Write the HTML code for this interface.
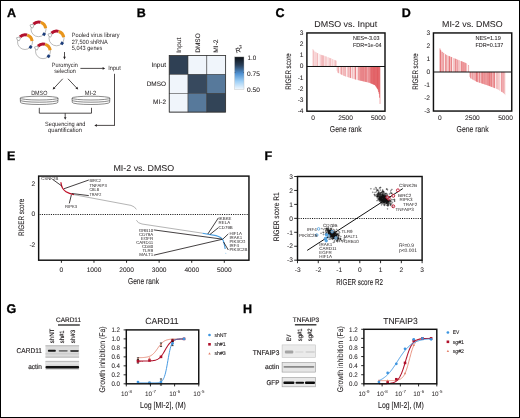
<!DOCTYPE html>
<html><head><meta charset="utf-8"><style>
html,body{margin:0;padding:0;background:#fff;}
body{width:520px;height:418px;overflow:hidden;}
svg{display:block;font-family:"Liberation Sans", sans-serif;text-rendering:geometricPrecision;will-change:transform;}
</style></head><body>
<svg width="520" height="418" viewBox="0 0 520 418">
<rect x="0" y="0" width="520" height="418" fill="#fff"/>
<text x="7.00" y="16.70" font-size="12.5" text-anchor="start" font-weight="bold" fill="#000" stroke="#000" stroke-width="0.3">A</text>
<circle cx="38.5" cy="29.2" r="7.5" fill="none" stroke="#8f8f8f" stroke-width="0.6"/>
<path d="M33.50,24.02 A7.2,7.2 0 0 1 40.48,22.28" fill="none" stroke="#b3112e" stroke-width="3.1"/>
<path d="M40.72,22.35 A7.2,7.2 0 0 1 45.63,28.20" fill="none" stroke="#e8951c" stroke-width="3.1"/>
<g transform="translate(31.76,25.91) rotate(118)"><polygon points="-1.5,-1.8 1.5,-1.8 1.5,0.4 0,2.0 -1.5,0.4" fill="#fff" stroke="#8a8a8a" stroke-width="0.55"/></g>
<rect x="42.62" y="32.77" width="2.9" height="2.9" fill="#1c3d7a" transform="rotate(35 44.07 34.22)"/>
<circle cx="25" cy="42" r="7.5" fill="none" stroke="#8f8f8f" stroke-width="0.6"/>
<path d="M20.00,36.82 A7.2,7.2 0 0 1 26.98,35.08" fill="none" stroke="#b3112e" stroke-width="3.1"/>
<path d="M27.22,35.15 A7.2,7.2 0 0 1 32.13,41.00" fill="none" stroke="#e8951c" stroke-width="3.1"/>
<g transform="translate(18.26,38.71) rotate(118)"><polygon points="-1.5,-1.8 1.5,-1.8 1.5,0.4 0,2.0 -1.5,0.4" fill="#fff" stroke="#8a8a8a" stroke-width="0.55"/></g>
<rect x="29.12" y="45.57" width="2.9" height="2.9" fill="#1c3d7a" transform="rotate(35 30.57 47.02)"/>
<circle cx="56.5" cy="38.3" r="7.5" fill="none" stroke="#8f8f8f" stroke-width="0.6"/>
<path d="M51.50,33.12 A7.2,7.2 0 0 1 58.48,31.38" fill="none" stroke="#b3112e" stroke-width="3.1"/>
<path d="M58.72,31.45 A7.2,7.2 0 0 1 63.63,37.30" fill="none" stroke="#e8951c" stroke-width="3.1"/>
<g transform="translate(49.76,35.01) rotate(118)"><polygon points="-1.5,-1.8 1.5,-1.8 1.5,0.4 0,2.0 -1.5,0.4" fill="#fff" stroke="#8a8a8a" stroke-width="0.55"/></g>
<rect x="60.62" y="41.87" width="2.9" height="2.9" fill="#1c3d7a" transform="rotate(35 62.07 43.32)"/>
<circle cx="43" cy="51.2" r="7.5" fill="none" stroke="#8f8f8f" stroke-width="0.6"/>
<path d="M38.00,46.02 A7.2,7.2 0 0 1 44.98,44.28" fill="none" stroke="#b3112e" stroke-width="3.1"/>
<path d="M45.22,44.35 A7.2,7.2 0 0 1 50.13,50.20" fill="none" stroke="#e8951c" stroke-width="3.1"/>
<g transform="translate(36.26,47.91) rotate(118)"><polygon points="-1.5,-1.8 1.5,-1.8 1.5,0.4 0,2.0 -1.5,0.4" fill="#fff" stroke="#8a8a8a" stroke-width="0.55"/></g>
<rect x="47.12" y="54.77" width="2.9" height="2.9" fill="#1c3d7a" transform="rotate(35 48.57 56.22)"/>
<text x="71.80" y="36.80" font-size="6.1" text-anchor="start" font-weight="normal" fill="#231f20" textLength="47.70" lengthAdjust="spacingAndGlyphs">Pooled virus library</text>
<text x="71.80" y="43.60" font-size="6.1" text-anchor="start" font-weight="normal" fill="#231f20" textLength="36.00" lengthAdjust="spacingAndGlyphs">27,500 shRNA</text>
<text x="71.80" y="50.30" font-size="6.1" text-anchor="start" font-weight="normal" fill="#231f20" textLength="30.60" lengthAdjust="spacingAndGlyphs">5,043 genes</text>
<line x1="64.50" y1="52.00" x2="64.50" y2="57.10" stroke="#231f20" stroke-width="0.8"/>
<polygon points="64.50,59.40 63.20,56.80 65.80,56.80" fill="#231f20"/>
<text x="51.80" y="66.50" font-size="6.1" text-anchor="start" font-weight="normal" fill="#231f20" textLength="26.00" lengthAdjust="spacingAndGlyphs">Puromycin</text>
<text x="54.20" y="72.80" font-size="6.1" text-anchor="start" font-weight="normal" fill="#231f20" textLength="21.60" lengthAdjust="spacingAndGlyphs">selection</text>
<line x1="80.40" y1="68.40" x2="102.90" y2="68.40" stroke="#231f20" stroke-width="0.8"/>
<polygon points="105.20,68.40 102.60,69.70 102.60,67.10" fill="#231f20"/>
<text x="108.20" y="70.20" font-size="6.1" text-anchor="start" font-weight="normal" fill="#231f20" textLength="12.60" lengthAdjust="spacingAndGlyphs">Input</text>
<line x1="114.50" y1="73.80" x2="114.50" y2="125.40" stroke="#231f20" stroke-width="0.8"/>
<line x1="114.90" y1="125.40" x2="96.60" y2="125.40" stroke="#231f20" stroke-width="0.8"/>
<polygon points="94.30,125.40 96.90,124.10 96.90,126.70" fill="#231f20"/>
<line x1="62.70" y1="78.80" x2="54.26" y2="87.91" stroke="#231f20" stroke-width="0.8"/>
<polygon points="52.70,89.60 53.51,86.81 55.42,88.58" fill="#231f20"/>
<line x1="68.00" y1="78.80" x2="76.62" y2="87.93" stroke="#231f20" stroke-width="0.8"/>
<polygon points="78.20,89.60 75.47,88.60 77.36,86.82" fill="#231f20"/>
<text x="31.20" y="94.50" font-size="6.1" text-anchor="start" font-weight="normal" fill="#231f20" textLength="16.20" lengthAdjust="spacingAndGlyphs">DMSO</text>
<text x="84.80" y="94.50" font-size="6.1" text-anchor="start" font-weight="normal" fill="#231f20" textLength="11.50" lengthAdjust="spacingAndGlyphs">MI-2</text>
<ellipse cx="39.15" cy="98.1" rx="18.95" ry="1.9" fill="#fff" stroke="#4a4a4a" stroke-width="0.65"/>
<path d="M20.20,98.1 L20.50,102.4 A18.65,2.1 0 0 0 57.80,102.4 L58.10,98.1" fill="none" stroke="#4a4a4a" stroke-width="0.65"/>
<path d="M20.40,100.2 A18.75,2.0 0 0 0 57.90,100.2" fill="none" stroke="#4a4a4a" stroke-width="0.65"/>
<ellipse cx="90.95" cy="98.1" rx="18.95" ry="1.9" fill="#fff" stroke="#4a4a4a" stroke-width="0.65"/>
<path d="M72.00,98.1 L72.30,102.4 A18.65,2.1 0 0 0 109.60,102.4 L109.90,98.1" fill="none" stroke="#4a4a4a" stroke-width="0.65"/>
<path d="M72.20,100.2 A18.75,2.0 0 0 0 109.70,100.2" fill="none" stroke="#4a4a4a" stroke-width="0.65"/>
<line x1="39.30" y1="107.80" x2="39.30" y2="113.20" stroke="#231f20" stroke-width="0.8"/>
<line x1="91.50" y1="107.80" x2="91.50" y2="113.20" stroke="#231f20" stroke-width="0.8"/>
<line x1="39.30" y1="113.20" x2="91.50" y2="113.20" stroke="#231f20" stroke-width="0.8"/>
<line x1="65.20" y1="113.20" x2="65.20" y2="117.50" stroke="#231f20" stroke-width="0.8"/>
<polygon points="65.20,119.80 63.90,117.20 66.50,117.20" fill="#231f20"/>
<text x="45.10" y="126.00" font-size="6.1" text-anchor="start" font-weight="normal" fill="#231f20" textLength="40.40" lengthAdjust="spacingAndGlyphs">Sequencing and</text>
<text x="48.10" y="132.30" font-size="6.1" text-anchor="start" font-weight="normal" fill="#231f20" textLength="33.90" lengthAdjust="spacingAndGlyphs">quantification</text>
<text x="136.80" y="16.90" font-size="12.5" text-anchor="start" font-weight="bold" fill="#000" stroke="#000" stroke-width="0.3">B</text>
<rect x="169.20" y="55.60" width="18.83" height="18.83" fill="#2f4054" stroke="#3a3a3a" stroke-width="0.5"/>
<rect x="188.03" y="55.60" width="18.83" height="18.83" fill="#f0f5fb" stroke="#3a3a3a" stroke-width="0.5"/>
<rect x="206.86" y="55.60" width="18.83" height="18.83" fill="#f0f5fb" stroke="#3a3a3a" stroke-width="0.5"/>
<rect x="169.20" y="74.43" width="18.83" height="18.83" fill="#f0f5fb" stroke="#3a3a3a" stroke-width="0.5"/>
<rect x="188.03" y="74.43" width="18.83" height="18.83" fill="#37495e" stroke="#3a3a3a" stroke-width="0.5"/>
<rect x="206.86" y="74.43" width="18.83" height="18.83" fill="#57799b" stroke="#3a3a3a" stroke-width="0.5"/>
<rect x="169.20" y="93.26" width="18.83" height="18.83" fill="#f0f5fb" stroke="#3a3a3a" stroke-width="0.5"/>
<rect x="188.03" y="93.26" width="18.83" height="18.83" fill="#57799b" stroke="#3a3a3a" stroke-width="0.5"/>
<rect x="206.86" y="93.26" width="18.83" height="18.83" fill="#324457" stroke="#3a3a3a" stroke-width="0.5"/>
<rect x="169.20" y="55.60" width="56.49" height="56.49" fill="none" stroke="#333" stroke-width="0.7"/>
<text x="166.00" y="67.00" font-size="6.5" text-anchor="end" font-weight="normal" fill="#231f20" stroke="#231f20" stroke-width="0.07" textLength="14.60" lengthAdjust="spacingAndGlyphs">Input</text>
<text x="166.00" y="85.70" font-size="6.5" text-anchor="end" font-weight="normal" fill="#231f20" stroke="#231f20" stroke-width="0.07" textLength="19.30" lengthAdjust="spacingAndGlyphs">DMSO</text>
<text x="166.00" y="104.20" font-size="6.5" text-anchor="end" font-weight="normal" fill="#231f20" stroke="#231f20" stroke-width="0.07" textLength="12.90" lengthAdjust="spacingAndGlyphs">MI-2</text>
<text x="181.40" y="52.80" font-size="6.5" text-anchor="start" font-weight="normal" fill="#231f20" stroke="#231f20" stroke-width="0.07" textLength="15.20" lengthAdjust="spacingAndGlyphs" transform="rotate(-90 181.40 52.80)">Input</text>
<text x="200.00" y="52.80" font-size="6.5" text-anchor="start" font-weight="normal" fill="#231f20" stroke="#231f20" stroke-width="0.07" textLength="19.60" lengthAdjust="spacingAndGlyphs" transform="rotate(-90 200.00 52.80)">DMSO</text>
<text x="218.20" y="52.80" font-size="6.5" text-anchor="start" font-weight="normal" fill="#231f20" stroke="#231f20" stroke-width="0.07" textLength="13.40" lengthAdjust="spacingAndGlyphs" transform="rotate(-90 218.20 52.80)">MI-2</text>
<defs><linearGradient id="cb" x1="0" y1="0" x2="0" y2="1"><stop offset="0" stop-color="#0d1116"/><stop offset="0.25" stop-color="#2a3f58"/><stop offset="0.5" stop-color="#4d8fd0"/><stop offset="0.75" stop-color="#9fd0f6"/><stop offset="1" stop-color="#f4f9fe"/></linearGradient></defs>
<rect x="234.6" y="56.9" width="9.4" height="32.8" fill="url(#cb)" stroke="#bbb" stroke-width="0.4"/>
<line x1="234.60" y1="72.60" x2="235.60" y2="72.60" stroke="#333" stroke-width="0.4"/>
<line x1="243.00" y1="72.60" x2="244.00" y2="72.60" stroke="#333" stroke-width="0.4"/>
<text x="247.60" y="60.40" font-size="6.5" text-anchor="start" font-weight="normal" fill="#231f20" stroke="#231f20" stroke-width="0.07" textLength="8.60" lengthAdjust="spacingAndGlyphs">1.0</text>
<text x="247.10" y="76.30" font-size="6.5" text-anchor="start" font-weight="normal" fill="#231f20" stroke="#231f20" stroke-width="0.07" textLength="12.80" lengthAdjust="spacingAndGlyphs">0.75</text>
<text x="247.10" y="91.60" font-size="6.5" text-anchor="start" font-weight="normal" fill="#231f20" stroke="#231f20" stroke-width="0.07" textLength="12.80" lengthAdjust="spacingAndGlyphs">0.50</text>
<g transform="rotate(-15 239 50)">
<text x="235.60" y="52.40" font-size="7.0" text-anchor="start" font-weight="normal" fill="#231f20" stroke="#231f20" stroke-width="0.05">R</text>
<text x="240.20" y="48.90" font-size="4.6" text-anchor="start" font-weight="normal" fill="#231f20" stroke="#231f20" stroke-width="0.05">2</text>
</g>
<text x="275.60" y="16.90" font-size="12.5" text-anchor="start" font-weight="bold" fill="#000" stroke="#000" stroke-width="0.3">C</text>
<text x="314.30" y="27.10" font-size="8.5" text-anchor="start" font-weight="normal" fill="#231f20" stroke="#231f20" stroke-width="0.07" textLength="63.00" lengthAdjust="spacingAndGlyphs">DMSO vs. Input</text>
<rect x="312.70" y="49.12" width="0.52" height="17.36" fill="rgb(239,168,171)"/>
<rect x="313.20" y="50.17" width="0.52" height="16.31" fill="rgb(240,175,177)"/>
<rect x="313.70" y="50.68" width="0.52" height="15.80" fill="rgb(239,167,169)"/>
<rect x="314.20" y="51.14" width="0.52" height="15.35" fill="rgb(253,242,242)"/>
<rect x="314.70" y="51.59" width="0.52" height="14.90" fill="rgb(238,164,167)"/>
<rect x="315.20" y="52.04" width="0.52" height="14.44" fill="rgb(245,200,201)"/>
<rect x="315.70" y="52.35" width="0.52" height="14.13" fill="rgb(245,200,202)"/>
<rect x="316.20" y="52.61" width="0.52" height="13.88" fill="rgb(237,160,163)"/>
<rect x="316.70" y="52.86" width="0.52" height="13.62" fill="rgb(253,242,242)"/>
<rect x="317.20" y="53.12" width="0.52" height="13.37" fill="rgb(234,141,145)"/>
<rect x="317.70" y="53.37" width="0.52" height="13.11" fill="rgb(238,165,168)"/>
<rect x="318.20" y="53.63" width="0.52" height="12.86" fill="rgb(253,242,242)"/>
<rect x="318.70" y="53.88" width="0.52" height="12.61" fill="rgb(253,242,242)"/>
<rect x="319.20" y="54.13" width="0.52" height="12.35" fill="rgb(245,202,204)"/>
<rect x="319.70" y="54.39" width="0.52" height="12.10" fill="rgb(253,242,242)"/>
<rect x="320.20" y="54.56" width="0.52" height="11.92" fill="rgb(246,204,206)"/>
<rect x="320.70" y="54.73" width="0.52" height="11.75" fill="rgb(241,176,179)"/>
<rect x="321.20" y="54.90" width="0.52" height="11.59" fill="rgb(240,171,174)"/>
<rect x="321.70" y="55.07" width="0.52" height="11.42" fill="rgb(240,173,175)"/>
<rect x="322.20" y="55.23" width="0.52" height="11.25" fill="rgb(240,175,178)"/>
<rect x="322.70" y="55.40" width="0.52" height="11.08" fill="rgb(234,139,143)"/>
<rect x="323.20" y="55.57" width="0.52" height="10.92" fill="rgb(236,150,153)"/>
<rect x="323.70" y="55.74" width="0.52" height="10.75" fill="rgb(242,185,187)"/>
<rect x="324.20" y="55.91" width="0.52" height="10.58" fill="rgb(242,187,189)"/>
<rect x="324.70" y="56.07" width="0.52" height="10.41" fill="rgb(253,242,242)"/>
<rect x="325.20" y="56.27" width="0.52" height="10.22" fill="rgb(241,179,182)"/>
<rect x="325.70" y="56.46" width="0.52" height="10.02" fill="rgb(241,180,182)"/>
<rect x="326.20" y="56.66" width="0.52" height="9.83" fill="rgb(236,149,153)"/>
<rect x="326.70" y="56.85" width="0.52" height="9.63" fill="rgb(253,242,242)"/>
<rect x="327.20" y="57.05" width="0.52" height="9.44" fill="rgb(253,242,242)"/>
<rect x="327.70" y="57.24" width="0.52" height="9.24" fill="rgb(240,174,177)"/>
<rect x="328.20" y="57.44" width="0.52" height="9.05" fill="rgb(241,179,182)"/>
<rect x="328.70" y="57.64" width="0.52" height="8.85" fill="rgb(253,242,242)"/>
<rect x="329.20" y="57.83" width="0.52" height="8.66" fill="rgb(236,154,157)"/>
<rect x="329.70" y="58.03" width="0.52" height="8.46" fill="rgb(245,200,202)"/>
<rect x="330.20" y="58.22" width="0.52" height="8.26" fill="rgb(234,141,145)"/>
<rect x="330.70" y="58.42" width="0.52" height="8.07" fill="rgb(245,198,200)"/>
<rect x="331.20" y="58.63" width="0.52" height="7.85" fill="rgb(245,199,201)"/>
<rect x="331.70" y="58.85" width="0.52" height="7.63" fill="rgb(253,242,242)"/>
<rect x="332.20" y="59.07" width="0.52" height="7.41" fill="rgb(244,194,196)"/>
<rect x="332.70" y="59.29" width="0.52" height="7.19" fill="rgb(240,176,178)"/>
<rect x="333.20" y="59.51" width="0.52" height="6.97" fill="rgb(253,242,242)"/>
<rect x="333.70" y="59.73" width="0.52" height="6.75" fill="rgb(244,197,199)"/>
<rect x="334.20" y="59.95" width="0.52" height="6.53" fill="rgb(245,198,200)"/>
<rect x="334.70" y="60.17" width="0.52" height="6.31" fill="rgb(243,192,194)"/>
<rect x="335.20" y="60.39" width="0.52" height="6.09" fill="rgb(234,141,145)"/>
<rect x="335.70" y="60.61" width="0.52" height="5.87" fill="rgb(242,186,188)"/>
<rect x="336.20" y="60.81" width="0.42" height="5.68" fill="rgb(243,192,194)"/>
<rect x="336.80" y="66.49" width="0.52" height="4.23" fill="rgb(235,149,152)"/>
<rect x="337.30" y="66.49" width="0.52" height="5.97" fill="rgb(241,180,183)"/>
<rect x="337.80" y="66.49" width="0.52" height="6.37" fill="rgb(240,171,174)"/>
<rect x="338.30" y="66.49" width="0.52" height="6.62" fill="rgb(232,128,132)"/>
<rect x="338.80" y="66.49" width="0.52" height="6.87" fill="rgb(238,165,168)"/>
<rect x="339.30" y="66.49" width="0.52" height="7.12" fill="rgb(253,242,242)"/>
<rect x="339.80" y="66.49" width="0.52" height="7.37" fill="rgb(253,242,242)"/>
<rect x="340.30" y="66.49" width="0.52" height="7.62" fill="rgb(239,169,172)"/>
<rect x="340.80" y="66.49" width="0.52" height="7.88" fill="rgb(237,159,162)"/>
<rect x="341.30" y="66.49" width="0.52" height="8.13" fill="rgb(229,113,118)"/>
<rect x="341.80" y="66.49" width="0.52" height="8.38" fill="rgb(234,143,147)"/>
<rect x="342.30" y="66.49" width="0.52" height="8.63" fill="rgb(240,174,176)"/>
<rect x="342.80" y="66.49" width="0.52" height="8.88" fill="rgb(253,242,242)"/>
<rect x="343.30" y="66.49" width="0.52" height="9.13" fill="rgb(231,124,128)"/>
<rect x="343.80" y="66.49" width="0.52" height="9.38" fill="rgb(240,173,176)"/>
<rect x="344.30" y="66.49" width="0.52" height="9.58" fill="rgb(229,115,119)"/>
<rect x="344.80" y="66.49" width="0.52" height="9.74" fill="rgb(253,242,242)"/>
<rect x="345.30" y="66.49" width="0.52" height="9.89" fill="rgb(230,119,124)"/>
<rect x="345.80" y="66.49" width="0.52" height="10.05" fill="rgb(237,155,158)"/>
<rect x="346.30" y="66.49" width="0.52" height="10.20" fill="rgb(253,242,242)"/>
<rect x="346.80" y="66.49" width="0.52" height="10.36" fill="rgb(253,242,242)"/>
<rect x="347.30" y="66.49" width="0.52" height="10.51" fill="rgb(239,169,172)"/>
<rect x="347.80" y="66.49" width="0.52" height="10.67" fill="rgb(239,168,171)"/>
<rect x="348.30" y="66.49" width="0.52" height="10.82" fill="rgb(234,142,145)"/>
<rect x="348.80" y="66.49" width="0.52" height="10.98" fill="rgb(240,174,177)"/>
<rect x="349.30" y="66.49" width="0.52" height="11.13" fill="rgb(242,183,185)"/>
<rect x="349.80" y="66.49" width="0.52" height="11.29" fill="rgb(235,144,148)"/>
<rect x="350.30" y="66.49" width="0.52" height="11.45" fill="rgb(226,96,101)"/>
<rect x="350.80" y="66.49" width="0.52" height="11.60" fill="rgb(221,72,78)"/>
<rect x="351.30" y="66.49" width="0.52" height="11.76" fill="rgb(253,242,242)"/>
<rect x="351.80" y="66.49" width="0.52" height="11.91" fill="rgb(253,242,242)"/>
<rect x="352.30" y="66.49" width="0.52" height="12.07" fill="rgb(228,109,113)"/>
<rect x="352.80" y="66.49" width="0.52" height="12.22" fill="rgb(253,242,242)"/>
<rect x="353.30" y="66.49" width="0.52" height="12.38" fill="rgb(253,242,242)"/>
<rect x="353.80" y="66.49" width="0.52" height="12.53" fill="rgb(226,99,104)"/>
<rect x="354.30" y="66.49" width="0.52" height="12.69" fill="rgb(253,242,242)"/>
<rect x="354.80" y="66.49" width="0.52" height="12.85" fill="rgb(222,74,80)"/>
<rect x="355.30" y="66.49" width="0.52" height="13.00" fill="rgb(225,92,97)"/>
<rect x="355.80" y="66.49" width="0.52" height="13.14" fill="rgb(226,98,103)"/>
<rect x="356.30" y="66.49" width="0.52" height="13.25" fill="rgb(253,242,242)"/>
<rect x="356.80" y="66.49" width="0.52" height="13.37" fill="rgb(253,242,242)"/>
<rect x="357.30" y="66.49" width="0.52" height="13.49" fill="rgb(253,242,242)"/>
<rect x="357.80" y="66.49" width="0.52" height="13.60" fill="rgb(224,89,94)"/>
<rect x="358.30" y="66.49" width="0.52" height="13.72" fill="rgb(234,142,145)"/>
<rect x="358.80" y="66.49" width="0.52" height="13.84" fill="rgb(228,106,111)"/>
<rect x="359.30" y="66.49" width="0.52" height="13.95" fill="rgb(230,119,123)"/>
<rect x="359.80" y="66.49" width="0.52" height="14.07" fill="rgb(233,138,141)"/>
<rect x="360.30" y="66.49" width="0.52" height="14.19" fill="rgb(224,86,91)"/>
<rect x="360.80" y="66.49" width="0.52" height="14.31" fill="rgb(224,86,91)"/>
<rect x="361.30" y="66.49" width="0.52" height="14.42" fill="rgb(223,82,87)"/>
<rect x="361.80" y="66.49" width="0.52" height="14.54" fill="rgb(229,116,120)"/>
<rect x="362.30" y="66.49" width="0.52" height="14.66" fill="rgb(222,73,79)"/>
<rect x="362.80" y="66.49" width="0.52" height="14.77" fill="rgb(229,111,115)"/>
<rect x="363.30" y="66.49" width="0.52" height="14.89" fill="rgb(222,76,82)"/>
<rect x="363.80" y="66.49" width="0.52" height="15.01" fill="rgb(226,95,100)"/>
<rect x="364.30" y="66.49" width="0.52" height="15.12" fill="rgb(226,98,103)"/>
<rect x="364.80" y="66.49" width="0.52" height="15.24" fill="rgb(233,137,141)"/>
<rect x="365.30" y="66.49" width="0.52" height="15.36" fill="rgb(220,66,72)"/>
<rect x="365.80" y="66.49" width="0.52" height="15.47" fill="rgb(224,87,92)"/>
<rect x="366.30" y="66.49" width="0.52" height="15.59" fill="rgb(224,86,91)"/>
<rect x="366.80" y="66.49" width="0.52" height="15.71" fill="rgb(228,109,114)"/>
<rect x="367.30" y="66.49" width="0.52" height="15.82" fill="rgb(233,137,141)"/>
<rect x="367.80" y="66.49" width="0.52" height="15.94" fill="rgb(234,141,145)"/>
<rect x="368.30" y="66.49" width="0.52" height="16.06" fill="rgb(228,106,111)"/>
<rect x="368.80" y="66.49" width="0.52" height="16.17" fill="rgb(224,89,94)"/>
<rect x="369.30" y="66.49" width="0.52" height="16.36" fill="rgb(226,96,101)"/>
<rect x="369.80" y="66.49" width="0.52" height="16.58" fill="rgb(231,124,128)"/>
<rect x="370.30" y="66.49" width="0.52" height="16.79" fill="rgb(220,65,71)"/>
<rect x="370.80" y="66.49" width="0.52" height="17.01" fill="rgb(218,55,62)"/>
<rect x="371.30" y="66.49" width="0.52" height="17.22" fill="rgb(216,43,49)"/>
<rect x="371.80" y="66.49" width="0.52" height="17.44" fill="rgb(219,59,65)"/>
<rect x="372.30" y="66.49" width="0.52" height="17.65" fill="rgb(219,60,66)"/>
<rect x="372.80" y="66.49" width="0.52" height="17.87" fill="rgb(215,35,42)"/>
<rect x="373.30" y="66.49" width="0.52" height="18.09" fill="rgb(216,43,50)"/>
<rect x="373.80" y="66.49" width="0.52" height="18.30" fill="rgb(217,51,57)"/>
<rect x="374.30" y="66.49" width="0.52" height="18.52" fill="rgb(215,36,43)"/>
<rect x="374.80" y="66.49" width="0.52" height="18.89" fill="rgb(218,55,61)"/>
<rect x="375.30" y="66.49" width="0.52" height="19.62" fill="rgb(216,43,50)"/>
<rect x="375.80" y="66.49" width="0.52" height="20.35" fill="rgb(219,59,65)"/>
<rect x="376.30" y="66.49" width="0.52" height="21.09" fill="rgb(217,51,57)"/>
<rect x="376.80" y="66.49" width="0.52" height="21.82" fill="rgb(215,38,45)"/>
<rect x="377.30" y="66.49" width="0.52" height="22.55" fill="rgb(215,35,42)"/>
<rect x="377.80" y="66.49" width="0.52" height="23.81" fill="rgb(215,36,43)"/>
<rect x="378.30" y="66.49" width="0.52" height="25.61" fill="rgb(218,53,59)"/>
<rect x="378.80" y="66.49" width="0.52" height="27.41" fill="rgb(217,46,53)"/>
<rect x="379.30" y="66.49" width="0.52" height="31.21" fill="rgb(218,55,61)"/>
<rect x="379.80" y="66.49" width="0.42" height="37.45" fill="rgb(219,61,67)"/>
<rect x="306.90" y="32.95" width="78.10" height="78.25" fill="none" stroke="#111111" stroke-width="1.45"/>
<line x1="306.90" y1="66.49" x2="385.00" y2="66.49" stroke="#111111" stroke-width="1.0"/>
<text x="303.50" y="34.80" font-size="6.6" text-anchor="end" font-weight="normal" fill="#231f20" stroke="#231f20" stroke-width="0.07">3</text>
<text x="303.50" y="45.98" font-size="6.6" text-anchor="end" font-weight="normal" fill="#231f20" stroke="#231f20" stroke-width="0.07">2</text>
<text x="303.50" y="57.16" font-size="6.6" text-anchor="end" font-weight="normal" fill="#231f20" stroke="#231f20" stroke-width="0.07">1</text>
<text x="303.50" y="68.34" font-size="6.6" text-anchor="end" font-weight="normal" fill="#231f20" stroke="#231f20" stroke-width="0.07">0</text>
<text x="303.50" y="79.51" font-size="6.6" text-anchor="end" font-weight="normal" fill="#231f20" stroke="#231f20" stroke-width="0.07">-1</text>
<text x="303.50" y="90.69" font-size="6.6" text-anchor="end" font-weight="normal" fill="#231f20" stroke="#231f20" stroke-width="0.07">-2</text>
<text x="303.50" y="101.87" font-size="6.6" text-anchor="end" font-weight="normal" fill="#231f20" stroke="#231f20" stroke-width="0.07">-3</text>
<text x="303.50" y="113.05" font-size="6.6" text-anchor="end" font-weight="normal" fill="#231f20" stroke="#231f20" stroke-width="0.07">-4</text>
<text x="313.00" y="120.00" font-size="6.6" text-anchor="middle" font-weight="normal" fill="#231f20" stroke="#231f20" stroke-width="0.07">0</text>
<text x="345.60" y="120.00" font-size="6.6" text-anchor="middle" font-weight="normal" fill="#231f20" stroke="#231f20" stroke-width="0.07">2500</text>
<text x="378.30" y="120.00" font-size="6.6" text-anchor="middle" font-weight="normal" fill="#231f20" stroke="#231f20" stroke-width="0.07">5000</text>
<text x="353.00" y="40.30" font-size="5.7" text-anchor="start" font-weight="normal" fill="#231f20" stroke="#231f20" stroke-width="0.06" textLength="26.60" lengthAdjust="spacingAndGlyphs">NES=-3.03</text>
<text x="353.00" y="46.80" font-size="5.7" text-anchor="start" font-weight="normal" fill="#231f20" stroke="#231f20" stroke-width="0.06" textLength="28.60" lengthAdjust="spacingAndGlyphs">FDR=1e-04</text>
<text x="345.80" y="132.20" font-size="8.6" text-anchor="middle" font-weight="normal" fill="#231f20" stroke="#231f20" stroke-width="0.1" textLength="32.00" lengthAdjust="spacingAndGlyphs">Gene rank</text>
<text x="291.00" y="71.50" font-size="8.0" text-anchor="middle" font-weight="normal" fill="#231f20" stroke="#231f20" stroke-width="0.1" textLength="36.50" lengthAdjust="spacingAndGlyphs" transform="rotate(-90 291.00 71.50)">RIGER score</text>
<text x="401.80" y="17.00" font-size="12.5" text-anchor="start" font-weight="bold" fill="#000" stroke="#000" stroke-width="0.3">D</text>
<text x="442.00" y="27.10" font-size="8.5" text-anchor="start" font-weight="normal" fill="#231f20" stroke="#231f20" stroke-width="0.07" textLength="60.60" lengthAdjust="spacingAndGlyphs">MI-2 vs. DMSO</text>
<rect x="439.70" y="48.35" width="0.52" height="23.65" fill="rgb(224,86,91)"/>
<rect x="440.20" y="49.73" width="0.52" height="22.27" fill="rgb(221,70,76)"/>
<rect x="440.70" y="50.51" width="0.52" height="21.49" fill="rgb(221,72,77)"/>
<rect x="441.20" y="51.22" width="0.52" height="20.78" fill="rgb(252,237,238)"/>
<rect x="441.70" y="51.69" width="0.52" height="20.31" fill="rgb(221,70,76)"/>
<rect x="442.20" y="52.06" width="0.52" height="19.94" fill="rgb(222,73,79)"/>
<rect x="442.70" y="52.42" width="0.52" height="19.58" fill="rgb(252,237,238)"/>
<rect x="443.20" y="52.79" width="0.52" height="19.21" fill="rgb(231,124,128)"/>
<rect x="443.70" y="53.15" width="0.52" height="18.85" fill="rgb(226,99,104)"/>
<rect x="444.20" y="53.52" width="0.52" height="18.48" fill="rgb(252,237,238)"/>
<rect x="444.70" y="53.89" width="0.52" height="18.11" fill="rgb(252,237,238)"/>
<rect x="445.20" y="54.25" width="0.52" height="17.75" fill="rgb(221,72,78)"/>
<rect x="445.70" y="54.62" width="0.52" height="17.38" fill="rgb(232,131,135)"/>
<rect x="446.20" y="54.97" width="0.52" height="17.03" fill="rgb(233,133,137)"/>
<rect x="446.70" y="55.18" width="0.52" height="16.82" fill="rgb(233,134,137)"/>
<rect x="447.20" y="55.39" width="0.52" height="16.61" fill="rgb(252,237,238)"/>
<rect x="447.70" y="55.60" width="0.52" height="16.40" fill="rgb(231,127,131)"/>
<rect x="448.20" y="55.81" width="0.52" height="16.19" fill="rgb(252,237,238)"/>
<rect x="448.70" y="56.02" width="0.52" height="15.98" fill="rgb(222,75,81)"/>
<rect x="449.20" y="56.23" width="0.52" height="15.77" fill="rgb(221,68,74)"/>
<rect x="449.70" y="56.44" width="0.52" height="15.56" fill="rgb(225,91,96)"/>
<rect x="450.20" y="56.65" width="0.52" height="15.35" fill="rgb(252,237,238)"/>
<rect x="450.70" y="56.86" width="0.52" height="15.14" fill="rgb(225,90,95)"/>
<rect x="451.20" y="57.07" width="0.52" height="14.93" fill="rgb(222,74,79)"/>
<rect x="451.70" y="57.28" width="0.52" height="14.72" fill="rgb(229,115,120)"/>
<rect x="452.20" y="57.49" width="0.52" height="14.51" fill="rgb(252,237,238)"/>
<rect x="452.70" y="57.70" width="0.52" height="14.30" fill="rgb(252,237,238)"/>
<rect x="453.20" y="57.91" width="0.52" height="14.09" fill="rgb(252,237,238)"/>
<rect x="453.70" y="58.12" width="0.52" height="13.88" fill="rgb(226,96,101)"/>
<rect x="454.20" y="58.33" width="0.52" height="13.67" fill="rgb(252,237,238)"/>
<rect x="454.70" y="58.54" width="0.52" height="13.46" fill="rgb(230,117,121)"/>
<rect x="455.20" y="58.75" width="0.52" height="13.25" fill="rgb(223,80,85)"/>
<rect x="455.70" y="58.96" width="0.52" height="13.04" fill="rgb(230,119,123)"/>
<rect x="456.20" y="59.17" width="0.52" height="12.83" fill="rgb(224,89,94)"/>
<rect x="456.70" y="59.37" width="0.52" height="12.63" fill="rgb(252,237,238)"/>
<rect x="457.20" y="59.58" width="0.52" height="12.42" fill="rgb(234,142,145)"/>
<rect x="457.70" y="59.78" width="0.52" height="12.22" fill="rgb(222,78,83)"/>
<rect x="458.20" y="59.99" width="0.52" height="12.01" fill="rgb(252,237,238)"/>
<rect x="458.70" y="60.20" width="0.52" height="11.80" fill="rgb(229,115,119)"/>
<rect x="459.20" y="60.40" width="0.52" height="11.60" fill="rgb(234,143,146)"/>
<rect x="459.70" y="60.61" width="0.52" height="11.39" fill="rgb(252,237,238)"/>
<rect x="460.20" y="60.81" width="0.52" height="11.19" fill="rgb(252,237,238)"/>
<rect x="460.70" y="61.02" width="0.52" height="10.98" fill="rgb(232,128,132)"/>
<rect x="461.20" y="61.22" width="0.52" height="10.78" fill="rgb(221,71,77)"/>
<rect x="461.70" y="61.43" width="0.52" height="10.57" fill="rgb(230,117,121)"/>
<rect x="462.20" y="61.63" width="0.52" height="10.37" fill="rgb(227,103,107)"/>
<rect x="462.70" y="61.84" width="0.52" height="10.16" fill="rgb(233,135,139)"/>
<rect x="463.20" y="62.05" width="0.52" height="9.95" fill="rgb(223,81,87)"/>
<rect x="463.70" y="62.25" width="0.52" height="9.75" fill="rgb(234,141,144)"/>
<rect x="464.20" y="62.46" width="0.52" height="9.54" fill="rgb(233,136,140)"/>
<rect x="464.70" y="62.66" width="0.52" height="9.34" fill="rgb(226,96,101)"/>
<rect x="465.20" y="62.87" width="0.52" height="9.13" fill="rgb(230,117,121)"/>
<rect x="465.70" y="63.22" width="0.52" height="8.78" fill="rgb(227,101,106)"/>
<rect x="466.20" y="63.59" width="0.52" height="8.41" fill="rgb(230,119,123)"/>
<rect x="466.70" y="63.95" width="0.52" height="8.05" fill="rgb(252,237,238)"/>
<rect x="467.20" y="64.32" width="0.52" height="7.68" fill="rgb(252,237,238)"/>
<rect x="467.70" y="64.69" width="0.52" height="7.31" fill="rgb(252,237,238)"/>
<rect x="468.20" y="65.05" width="0.52" height="6.95" fill="rgb(220,66,72)"/>
<rect x="468.70" y="65.42" width="0.52" height="6.58" fill="rgb(252,237,238)"/>
<rect x="469.20" y="65.68" width="0.22" height="6.32" fill="rgb(252,237,238)"/>
<rect x="469.70" y="72.00" width="0.52" height="4.83" fill="rgb(227,102,107)"/>
<rect x="470.20" y="72.00" width="0.52" height="6.20" fill="rgb(231,125,129)"/>
<rect x="470.70" y="72.00" width="0.52" height="6.48" fill="rgb(223,79,85)"/>
<rect x="471.20" y="72.00" width="0.52" height="6.77" fill="rgb(228,111,115)"/>
<rect x="471.70" y="72.00" width="0.52" height="7.05" fill="rgb(252,237,238)"/>
<rect x="472.20" y="72.00" width="0.52" height="7.33" fill="rgb(234,141,145)"/>
<rect x="472.70" y="72.00" width="0.52" height="7.61" fill="rgb(222,78,84)"/>
<rect x="473.20" y="72.00" width="0.52" height="7.89" fill="rgb(252,237,238)"/>
<rect x="473.70" y="72.00" width="0.52" height="8.17" fill="rgb(221,69,75)"/>
<rect x="474.20" y="72.00" width="0.52" height="8.46" fill="rgb(223,82,87)"/>
<rect x="474.70" y="72.00" width="0.52" height="8.74" fill="rgb(252,237,238)"/>
<rect x="475.20" y="72.00" width="0.52" height="9.02" fill="rgb(232,132,136)"/>
<rect x="475.70" y="72.00" width="0.52" height="9.30" fill="rgb(230,120,125)"/>
<rect x="476.20" y="72.00" width="0.52" height="9.58" fill="rgb(220,66,71)"/>
<rect x="476.70" y="72.00" width="0.52" height="9.86" fill="rgb(220,67,73)"/>
<rect x="477.20" y="72.00" width="0.52" height="10.04" fill="rgb(227,105,110)"/>
<rect x="477.70" y="72.00" width="0.52" height="10.20" fill="rgb(228,106,111)"/>
<rect x="478.20" y="72.00" width="0.52" height="10.37" fill="rgb(229,112,116)"/>
<rect x="478.70" y="72.00" width="0.52" height="10.53" fill="rgb(252,237,238)"/>
<rect x="479.20" y="72.00" width="0.52" height="10.70" fill="rgb(220,66,72)"/>
<rect x="479.70" y="72.00" width="0.52" height="10.86" fill="rgb(226,95,100)"/>
<rect x="480.20" y="72.00" width="0.52" height="11.03" fill="rgb(230,117,121)"/>
<rect x="480.70" y="72.00" width="0.52" height="11.19" fill="rgb(252,237,238)"/>
<rect x="481.20" y="72.00" width="0.52" height="11.35" fill="rgb(223,82,88)"/>
<rect x="481.70" y="72.00" width="0.52" height="11.52" fill="rgb(229,115,120)"/>
<rect x="482.20" y="72.00" width="0.52" height="11.68" fill="rgb(223,83,88)"/>
<rect x="482.70" y="72.00" width="0.52" height="11.85" fill="rgb(225,92,97)"/>
<rect x="483.20" y="72.00" width="0.52" height="12.01" fill="rgb(229,115,120)"/>
<rect x="483.70" y="72.00" width="0.52" height="12.17" fill="rgb(230,122,126)"/>
<rect x="484.20" y="72.00" width="0.52" height="12.34" fill="rgb(223,83,89)"/>
<rect x="484.70" y="72.00" width="0.52" height="12.50" fill="rgb(230,121,125)"/>
<rect x="485.20" y="72.00" width="0.52" height="12.67" fill="rgb(225,93,98)"/>
<rect x="485.70" y="72.00" width="0.52" height="12.83" fill="rgb(234,143,146)"/>
<rect x="486.20" y="72.00" width="0.52" height="12.99" fill="rgb(231,124,128)"/>
<rect x="486.70" y="72.00" width="0.52" height="13.16" fill="rgb(228,107,112)"/>
<rect x="487.20" y="72.00" width="0.52" height="13.32" fill="rgb(225,93,98)"/>
<rect x="487.70" y="72.00" width="0.52" height="13.49" fill="rgb(230,116,121)"/>
<rect x="488.20" y="72.00" width="0.52" height="13.65" fill="rgb(224,86,91)"/>
<rect x="488.70" y="72.00" width="0.52" height="13.85" fill="rgb(229,116,121)"/>
<rect x="489.20" y="72.00" width="0.52" height="14.04" fill="rgb(222,76,81)"/>
<rect x="489.70" y="72.00" width="0.52" height="14.24" fill="rgb(220,67,73)"/>
<rect x="490.20" y="72.00" width="0.52" height="14.44" fill="rgb(227,103,108)"/>
<rect x="490.70" y="72.00" width="0.52" height="14.64" fill="rgb(232,131,134)"/>
<rect x="491.20" y="72.00" width="0.52" height="14.84" fill="rgb(221,70,76)"/>
<rect x="491.70" y="72.00" width="0.52" height="15.04" fill="rgb(225,90,95)"/>
<rect x="492.20" y="72.00" width="0.52" height="15.24" fill="rgb(224,86,92)"/>
<rect x="492.70" y="72.00" width="0.52" height="15.44" fill="rgb(252,237,238)"/>
<rect x="493.20" y="72.00" width="0.52" height="15.63" fill="rgb(226,98,103)"/>
<rect x="493.70" y="72.00" width="0.52" height="15.83" fill="rgb(228,111,115)"/>
<rect x="494.20" y="72.00" width="0.52" height="16.03" fill="rgb(223,83,88)"/>
<rect x="494.70" y="72.00" width="0.52" height="16.23" fill="rgb(224,87,93)"/>
<rect x="495.20" y="72.00" width="0.52" height="16.43" fill="rgb(252,237,238)"/>
<rect x="495.70" y="72.00" width="0.52" height="16.63" fill="rgb(252,237,238)"/>
<rect x="496.20" y="72.00" width="0.52" height="16.83" fill="rgb(225,93,98)"/>
<rect x="496.70" y="72.00" width="0.52" height="17.03" fill="rgb(252,237,238)"/>
<rect x="497.20" y="72.00" width="0.52" height="17.22" fill="rgb(225,94,99)"/>
<rect x="497.70" y="72.00" width="0.52" height="17.42" fill="rgb(252,237,238)"/>
<rect x="498.20" y="72.00" width="0.52" height="17.74" fill="rgb(231,126,130)"/>
<rect x="498.70" y="72.00" width="0.52" height="18.06" fill="rgb(252,237,238)"/>
<rect x="499.20" y="72.00" width="0.52" height="18.39" fill="rgb(252,237,238)"/>
<rect x="499.70" y="72.00" width="0.52" height="18.71" fill="rgb(232,129,133)"/>
<rect x="500.20" y="72.00" width="0.52" height="19.04" fill="rgb(252,237,238)"/>
<rect x="500.70" y="72.00" width="0.52" height="19.36" fill="rgb(252,237,238)"/>
<rect x="501.20" y="72.00" width="0.52" height="19.69" fill="rgb(229,114,118)"/>
<rect x="501.70" y="72.00" width="0.52" height="20.01" fill="rgb(226,97,102)"/>
<rect x="502.20" y="72.00" width="0.52" height="20.34" fill="rgb(222,73,79)"/>
<rect x="502.70" y="72.00" width="0.52" height="20.66" fill="rgb(252,237,238)"/>
<rect x="503.20" y="72.00" width="0.52" height="20.99" fill="rgb(231,122,126)"/>
<rect x="503.70" y="72.00" width="0.52" height="21.43" fill="rgb(233,135,138)"/>
<rect x="504.20" y="72.00" width="0.52" height="22.12" fill="rgb(229,114,119)"/>
<rect x="504.70" y="72.00" width="0.52" height="22.81" fill="rgb(252,237,238)"/>
<rect x="505.20" y="72.00" width="0.12" height="23.23" fill="rgb(233,136,140)"/>
<rect x="433.45" y="32.95" width="78.30" height="78.10" fill="none" stroke="#111111" stroke-width="1.45"/>
<line x1="433.45" y1="72.00" x2="511.75" y2="72.00" stroke="#111111" stroke-width="1.0"/>
<text x="430.05" y="34.80" font-size="6.6" text-anchor="end" font-weight="normal" fill="#231f20" stroke="#231f20" stroke-width="0.07">3</text>
<text x="430.05" y="47.82" font-size="6.6" text-anchor="end" font-weight="normal" fill="#231f20" stroke="#231f20" stroke-width="0.07">2</text>
<text x="430.05" y="60.83" font-size="6.6" text-anchor="end" font-weight="normal" fill="#231f20" stroke="#231f20" stroke-width="0.07">1</text>
<text x="430.05" y="73.85" font-size="6.6" text-anchor="end" font-weight="normal" fill="#231f20" stroke="#231f20" stroke-width="0.07">0</text>
<text x="430.05" y="86.87" font-size="6.6" text-anchor="end" font-weight="normal" fill="#231f20" stroke="#231f20" stroke-width="0.07">-1</text>
<text x="430.05" y="99.88" font-size="6.6" text-anchor="end" font-weight="normal" fill="#231f20" stroke="#231f20" stroke-width="0.07">-2</text>
<text x="430.05" y="112.90" font-size="6.6" text-anchor="end" font-weight="normal" fill="#231f20" stroke="#231f20" stroke-width="0.07">-3</text>
<text x="439.80" y="120.00" font-size="6.6" text-anchor="middle" font-weight="normal" fill="#231f20" stroke="#231f20" stroke-width="0.07">0</text>
<text x="472.40" y="120.00" font-size="6.6" text-anchor="middle" font-weight="normal" fill="#231f20" stroke="#231f20" stroke-width="0.07">2500</text>
<text x="505.50" y="120.00" font-size="6.6" text-anchor="middle" font-weight="normal" fill="#231f20" stroke="#231f20" stroke-width="0.07">5000</text>
<text x="475.40" y="40.30" font-size="5.7" text-anchor="start" font-weight="normal" fill="#231f20" stroke="#231f20" stroke-width="0.06" textLength="25.40" lengthAdjust="spacingAndGlyphs">NES=1.19</text>
<text x="475.40" y="46.80" font-size="5.7" text-anchor="start" font-weight="normal" fill="#231f20" stroke="#231f20" stroke-width="0.06" textLength="28.00" lengthAdjust="spacingAndGlyphs">FDR=0.137</text>
<text x="472.60" y="132.20" font-size="8.6" text-anchor="middle" font-weight="normal" fill="#231f20" stroke="#231f20" stroke-width="0.1" textLength="32.00" lengthAdjust="spacingAndGlyphs">Gene rank</text>
<text x="418.00" y="71.50" font-size="8.0" text-anchor="middle" font-weight="normal" fill="#231f20" stroke="#231f20" stroke-width="0.1" textLength="36.50" lengthAdjust="spacingAndGlyphs" transform="rotate(-90 418.00 71.50)">RIGER score</text>
<text x="6.90" y="160.00" font-size="12.5" text-anchor="start" font-weight="bold" fill="#000" stroke="#000" stroke-width="0.3">E</text>
<text x="113.40" y="170.80" font-size="8.5" text-anchor="start" font-weight="normal" fill="#231f20" stroke="#231f20" stroke-width="0.07" textLength="60.80" lengthAdjust="spacingAndGlyphs">MI-2 vs. DMSO</text>
<line x1="39.65" y1="214.50" x2="248.95" y2="214.50" stroke="#111" stroke-width="1.0" stroke-dasharray="1.05,1.2"/>
<path d="M74,194.7 L131,205.4 Q135,206.6 136.4,209.4" fill="none" stroke="#b5b5b5" stroke-width="1.0"/>
<path d="M136.4,220.2 Q137.6,223.2 142,224 L202.5,233.2" fill="none" stroke="#b5b5b5" stroke-width="1.0"/>
<path d="M60.9,182.3 Q61.5,189 66,191.8 Q69,193.6 74,194.7" fill="none" stroke="#c01028" stroke-width="1.25"/>
<path d="M202.5,233.2 L216,235.6 Q221.5,237 223.2,240.5 Q224.6,244.5 225.2,249" fill="none" stroke="#4a9ee0" stroke-width="1.15"/>
<circle cx="225.8" cy="253.2" r="0.5" fill="#8cc4ef"/>
<rect x="38.65" y="176.10" width="210.30" height="84.10" fill="none" stroke="#111111" stroke-width="1.45"/>
<text x="35.25" y="185.75" font-size="6.6" text-anchor="end" font-weight="normal" fill="#231f20" stroke="#231f20" stroke-width="0.07">2</text>
<text x="35.25" y="216.35" font-size="6.6" text-anchor="end" font-weight="normal" fill="#231f20" stroke="#231f20" stroke-width="0.07">0</text>
<text x="35.25" y="246.95" font-size="6.6" text-anchor="end" font-weight="normal" fill="#231f20" stroke="#231f20" stroke-width="0.07">-2</text>
<line x1="61.40" y1="260.20" x2="61.40" y2="262.80" stroke="#111111" stroke-width="0.9"/>
<text x="61.40" y="272.20" font-size="6.6" text-anchor="middle" font-weight="normal" fill="#231f20" stroke="#231f20" stroke-width="0.07">0</text>
<line x1="93.98" y1="260.20" x2="93.98" y2="262.80" stroke="#111111" stroke-width="0.9"/>
<text x="93.98" y="272.20" font-size="6.6" text-anchor="middle" font-weight="normal" fill="#231f20" stroke="#231f20" stroke-width="0.07">1000</text>
<line x1="126.56" y1="260.20" x2="126.56" y2="262.80" stroke="#111111" stroke-width="0.9"/>
<text x="126.56" y="272.20" font-size="6.6" text-anchor="middle" font-weight="normal" fill="#231f20" stroke="#231f20" stroke-width="0.07">2000</text>
<line x1="159.14" y1="260.20" x2="159.14" y2="262.80" stroke="#111111" stroke-width="0.9"/>
<text x="159.14" y="272.20" font-size="6.6" text-anchor="middle" font-weight="normal" fill="#231f20" stroke="#231f20" stroke-width="0.07">3000</text>
<line x1="191.72" y1="260.20" x2="191.72" y2="262.80" stroke="#111111" stroke-width="0.9"/>
<text x="191.72" y="272.20" font-size="6.6" text-anchor="middle" font-weight="normal" fill="#231f20" stroke="#231f20" stroke-width="0.07">4000</text>
<line x1="224.30" y1="260.20" x2="224.30" y2="262.80" stroke="#111111" stroke-width="0.9"/>
<text x="224.30" y="272.20" font-size="6.6" text-anchor="middle" font-weight="normal" fill="#231f20" stroke="#231f20" stroke-width="0.07">5000</text>
<text x="143.50" y="284.20" font-size="8.6" text-anchor="middle" font-weight="normal" fill="#231f20" stroke="#231f20" stroke-width="0.1" textLength="30.90" lengthAdjust="spacingAndGlyphs">Gene rank</text>
<text x="24.20" y="217.40" font-size="8.0" text-anchor="middle" font-weight="normal" fill="#231f20" stroke="#231f20" stroke-width="0.1" textLength="37.20" lengthAdjust="spacingAndGlyphs" transform="rotate(-90 24.20 217.40)">RIGER score</text>
<text x="41.20" y="180.30" font-size="4.4" text-anchor="start" font-weight="normal" fill="#231f20" textLength="17.20" lengthAdjust="spacingAndGlyphs">CSNK2B</text>
<text x="89.40" y="182.30" font-size="4.4" text-anchor="start" font-weight="normal" fill="#231f20" textLength="11.60" lengthAdjust="spacingAndGlyphs">BIRC2</text>
<text x="89.40" y="186.70" font-size="4.4" text-anchor="start" font-weight="normal" fill="#231f20" textLength="17.40" lengthAdjust="spacingAndGlyphs">TNFAIP3</text>
<text x="89.40" y="191.40" font-size="4.4" text-anchor="start" font-weight="normal" fill="#231f20" textLength="9.80" lengthAdjust="spacingAndGlyphs">CBLB</text>
<text x="89.40" y="196.10" font-size="4.4" text-anchor="start" font-weight="normal" fill="#231f20" textLength="12.00" lengthAdjust="spacingAndGlyphs">TRAF2</text>
<text x="65.00" y="208.30" font-size="4.4" text-anchor="start" font-weight="normal" fill="#231f20" textLength="12.00" lengthAdjust="spacingAndGlyphs">RIPK3</text>
<line x1="52.80" y1="179.50" x2="61.50" y2="185.80" stroke="#231f20" stroke-width="0.85"/>
<line x1="88.80" y1="180.00" x2="63.80" y2="188.80" stroke="#231f20" stroke-width="0.85"/>
<line x1="88.80" y1="195.60" x2="71.80" y2="193.50" stroke="#231f20" stroke-width="0.85"/>
<line x1="69.30" y1="203.40" x2="71.40" y2="194.70" stroke="#231f20" stroke-width="0.85"/>
<text x="218.60" y="220.10" font-size="4.4" text-anchor="start" font-weight="normal" fill="#231f20">IKBKE</text>
<text x="218.60" y="224.30" font-size="4.4" text-anchor="start" font-weight="normal" fill="#231f20">RELA</text>
<text x="218.60" y="228.50" font-size="4.4" text-anchor="start" font-weight="normal" fill="#231f20">CD79B</text>
<text x="153.20" y="232.30" font-size="4.4" text-anchor="end" font-weight="normal" fill="#231f20">GRB10</text>
<text x="153.20" y="236.27" font-size="4.4" text-anchor="end" font-weight="normal" fill="#231f20">CD79A</text>
<text x="153.20" y="240.24" font-size="4.4" text-anchor="end" font-weight="normal" fill="#231f20">EGFR</text>
<text x="153.20" y="244.21" font-size="4.4" text-anchor="end" font-weight="normal" fill="#231f20">CARD11</text>
<text x="153.20" y="248.18" font-size="4.4" text-anchor="end" font-weight="normal" fill="#231f20">CD80</text>
<text x="153.20" y="252.15" font-size="4.4" text-anchor="end" font-weight="normal" fill="#231f20">TLR9</text>
<text x="153.20" y="256.12" font-size="4.4" text-anchor="end" font-weight="normal" fill="#231f20">MALT1</text>
<text x="229.40" y="235.30" font-size="4.4" text-anchor="start" font-weight="normal" fill="#231f20">HIF1A</text>
<text x="229.40" y="239.23" font-size="4.4" text-anchor="start" font-weight="normal" fill="#231f20">IRAK1</text>
<text x="229.40" y="243.16" font-size="4.4" text-anchor="start" font-weight="normal" fill="#231f20">PIK3CG</text>
<text x="229.40" y="247.09" font-size="4.4" text-anchor="start" font-weight="normal" fill="#231f20">IRF4</text>
<text x="229.40" y="251.02" font-size="4.4" text-anchor="start" font-weight="normal" fill="#231f20">PIK3C2B</text>
<line x1="218.40" y1="217.90" x2="207.80" y2="234.00" stroke="#231f20" stroke-width="0.85"/>
<line x1="218.40" y1="227.70" x2="209.90" y2="234.50" stroke="#231f20" stroke-width="0.85"/>
<line x1="153.80" y1="229.90" x2="221.80" y2="239.10" stroke="#231f20" stroke-width="0.85"/>
<line x1="153.80" y1="255.20" x2="222.20" y2="239.30" stroke="#231f20" stroke-width="0.85"/>
<line x1="228.30" y1="233.90" x2="222.40" y2="239.50" stroke="#231f20" stroke-width="0.85"/>
<line x1="228.30" y1="250.00" x2="223.60" y2="242.00" stroke="#231f20" stroke-width="0.85"/>
<text x="264.50" y="160.00" font-size="12.5" text-anchor="start" font-weight="bold" fill="#000" stroke="#000" stroke-width="0.3">F</text>
<line x1="298.50" y1="218.50" x2="422.10" y2="218.50" stroke="#111" stroke-width="1.0" stroke-dasharray="1.05,1.2"/>
<circle cx="382.55" cy="201.66" r="0.45" fill="none" stroke="#111" stroke-width="0.38"/>
<circle cx="379.14" cy="198.33" r="0.45" fill="none" stroke="#111" stroke-width="0.38"/>
<circle cx="383.42" cy="197.78" r="0.45" fill="none" stroke="#111" stroke-width="0.38"/>
<circle cx="390.76" cy="204.55" r="0.45" fill="none" stroke="#111" stroke-width="0.38"/>
<circle cx="382.79" cy="200.28" r="0.45" fill="none" stroke="#111" stroke-width="0.38"/>
<circle cx="388.19" cy="202.05" r="0.45" fill="none" stroke="#111" stroke-width="0.38"/>
<circle cx="387.57" cy="198.75" r="0.45" fill="none" stroke="#111" stroke-width="0.38"/>
<circle cx="383.28" cy="197.15" r="0.45" fill="none" stroke="#111" stroke-width="0.38"/>
<circle cx="381.27" cy="192.43" r="0.45" fill="none" stroke="#111" stroke-width="0.38"/>
<circle cx="378.36" cy="194.05" r="0.45" fill="none" stroke="#111" stroke-width="0.38"/>
<circle cx="383.83" cy="197.91" r="0.45" fill="none" stroke="#111" stroke-width="0.38"/>
<circle cx="386.18" cy="196.63" r="0.45" fill="none" stroke="#111" stroke-width="0.38"/>
<circle cx="383.36" cy="199.24" r="0.45" fill="none" stroke="#111" stroke-width="0.38"/>
<circle cx="387.98" cy="199.45" r="0.45" fill="none" stroke="#111" stroke-width="0.38"/>
<circle cx="385.43" cy="194.03" r="0.45" fill="none" stroke="#111" stroke-width="0.38"/>
<circle cx="385.31" cy="193.39" r="0.45" fill="none" stroke="#111" stroke-width="0.38"/>
<circle cx="377.19" cy="197.20" r="0.45" fill="none" stroke="#111" stroke-width="0.38"/>
<circle cx="374.75" cy="194.46" r="0.45" fill="none" stroke="#111" stroke-width="0.38"/>
<circle cx="385.66" cy="199.31" r="0.45" fill="none" stroke="#111" stroke-width="0.38"/>
<circle cx="384.93" cy="201.28" r="0.45" fill="none" stroke="#111" stroke-width="0.38"/>
<circle cx="388.18" cy="201.44" r="0.45" fill="none" stroke="#111" stroke-width="0.38"/>
<circle cx="382.69" cy="196.20" r="0.45" fill="none" stroke="#111" stroke-width="0.38"/>
<circle cx="380.43" cy="196.19" r="0.45" fill="none" stroke="#111" stroke-width="0.38"/>
<circle cx="379.57" cy="198.88" r="0.45" fill="none" stroke="#111" stroke-width="0.38"/>
<circle cx="378.70" cy="191.74" r="0.45" fill="none" stroke="#111" stroke-width="0.38"/>
<circle cx="383.51" cy="192.35" r="0.45" fill="none" stroke="#111" stroke-width="0.38"/>
<circle cx="394.47" cy="199.63" r="0.45" fill="none" stroke="#111" stroke-width="0.38"/>
<circle cx="383.71" cy="197.21" r="0.45" fill="none" stroke="#111" stroke-width="0.38"/>
<circle cx="392.95" cy="199.76" r="0.45" fill="none" stroke="#111" stroke-width="0.38"/>
<circle cx="389.00" cy="200.55" r="0.45" fill="none" stroke="#111" stroke-width="0.38"/>
<circle cx="384.39" cy="197.28" r="0.45" fill="none" stroke="#111" stroke-width="0.38"/>
<circle cx="388.00" cy="198.58" r="0.45" fill="none" stroke="#111" stroke-width="0.38"/>
<circle cx="383.20" cy="199.46" r="0.45" fill="none" stroke="#111" stroke-width="0.38"/>
<circle cx="394.24" cy="199.46" r="0.45" fill="none" stroke="#111" stroke-width="0.38"/>
<circle cx="388.25" cy="205.03" r="0.45" fill="none" stroke="#111" stroke-width="0.38"/>
<circle cx="381.78" cy="198.25" r="0.45" fill="none" stroke="#111" stroke-width="0.38"/>
<circle cx="379.91" cy="200.88" r="0.45" fill="none" stroke="#111" stroke-width="0.38"/>
<circle cx="385.08" cy="199.16" r="0.45" fill="none" stroke="#111" stroke-width="0.38"/>
<circle cx="383.45" cy="197.99" r="0.45" fill="none" stroke="#111" stroke-width="0.38"/>
<circle cx="384.62" cy="196.82" r="0.45" fill="none" stroke="#111" stroke-width="0.38"/>
<circle cx="394.33" cy="201.01" r="0.45" fill="none" stroke="#111" stroke-width="0.38"/>
<circle cx="370.91" cy="188.81" r="0.45" fill="none" stroke="#111" stroke-width="0.38"/>
<circle cx="382.92" cy="199.31" r="0.45" fill="none" stroke="#111" stroke-width="0.38"/>
<circle cx="383.46" cy="198.15" r="0.45" fill="none" stroke="#111" stroke-width="0.38"/>
<circle cx="383.83" cy="201.78" r="0.45" fill="none" stroke="#111" stroke-width="0.38"/>
<circle cx="382.89" cy="197.05" r="0.45" fill="none" stroke="#111" stroke-width="0.38"/>
<circle cx="390.38" cy="205.37" r="0.45" fill="none" stroke="#111" stroke-width="0.38"/>
<circle cx="377.03" cy="200.74" r="0.45" fill="none" stroke="#111" stroke-width="0.38"/>
<circle cx="387.70" cy="200.01" r="0.45" fill="none" stroke="#111" stroke-width="0.38"/>
<circle cx="379.25" cy="196.33" r="0.45" fill="none" stroke="#111" stroke-width="0.38"/>
<circle cx="382.46" cy="194.67" r="0.45" fill="none" stroke="#111" stroke-width="0.38"/>
<circle cx="379.96" cy="194.45" r="0.45" fill="none" stroke="#111" stroke-width="0.38"/>
<circle cx="388.70" cy="201.22" r="0.45" fill="none" stroke="#111" stroke-width="0.38"/>
<circle cx="377.70" cy="196.28" r="0.45" fill="none" stroke="#111" stroke-width="0.38"/>
<circle cx="383.03" cy="200.80" r="0.45" fill="none" stroke="#111" stroke-width="0.38"/>
<circle cx="388.67" cy="201.99" r="0.45" fill="none" stroke="#111" stroke-width="0.38"/>
<circle cx="383.53" cy="198.51" r="0.45" fill="none" stroke="#111" stroke-width="0.38"/>
<circle cx="378.86" cy="197.15" r="0.45" fill="none" stroke="#111" stroke-width="0.38"/>
<circle cx="388.80" cy="203.12" r="0.45" fill="none" stroke="#111" stroke-width="0.38"/>
<circle cx="383.50" cy="197.85" r="0.45" fill="none" stroke="#111" stroke-width="0.38"/>
<circle cx="382.28" cy="195.30" r="0.45" fill="none" stroke="#111" stroke-width="0.38"/>
<circle cx="383.74" cy="196.28" r="0.45" fill="none" stroke="#111" stroke-width="0.38"/>
<circle cx="384.66" cy="194.76" r="0.45" fill="none" stroke="#111" stroke-width="0.38"/>
<circle cx="385.22" cy="200.06" r="0.45" fill="none" stroke="#111" stroke-width="0.38"/>
<circle cx="383.07" cy="191.41" r="0.45" fill="none" stroke="#111" stroke-width="0.38"/>
<circle cx="382.38" cy="201.10" r="0.45" fill="none" stroke="#111" stroke-width="0.38"/>
<circle cx="382.00" cy="196.05" r="0.45" fill="none" stroke="#111" stroke-width="0.38"/>
<circle cx="380.97" cy="198.69" r="0.45" fill="none" stroke="#111" stroke-width="0.38"/>
<circle cx="379.21" cy="198.36" r="0.45" fill="none" stroke="#111" stroke-width="0.38"/>
<circle cx="381.55" cy="199.94" r="0.45" fill="none" stroke="#111" stroke-width="0.38"/>
<circle cx="384.45" cy="198.65" r="0.45" fill="none" stroke="#111" stroke-width="0.38"/>
<circle cx="379.55" cy="193.60" r="0.45" fill="none" stroke="#111" stroke-width="0.38"/>
<circle cx="382.09" cy="199.55" r="0.45" fill="none" stroke="#111" stroke-width="0.38"/>
<circle cx="385.90" cy="198.34" r="0.45" fill="none" stroke="#111" stroke-width="0.38"/>
<circle cx="384.09" cy="202.03" r="0.45" fill="none" stroke="#111" stroke-width="0.38"/>
<circle cx="384.09" cy="197.75" r="0.45" fill="none" stroke="#111" stroke-width="0.38"/>
<circle cx="381.38" cy="199.47" r="0.45" fill="none" stroke="#111" stroke-width="0.38"/>
<circle cx="387.32" cy="198.70" r="0.45" fill="none" stroke="#111" stroke-width="0.38"/>
<circle cx="386.07" cy="199.11" r="0.45" fill="none" stroke="#111" stroke-width="0.38"/>
<circle cx="379.45" cy="199.31" r="0.45" fill="none" stroke="#111" stroke-width="0.38"/>
<circle cx="388.07" cy="199.87" r="0.45" fill="none" stroke="#111" stroke-width="0.38"/>
<circle cx="383.57" cy="200.18" r="0.45" fill="none" stroke="#111" stroke-width="0.38"/>
<circle cx="381.82" cy="197.00" r="0.45" fill="none" stroke="#111" stroke-width="0.38"/>
<circle cx="389.03" cy="197.41" r="0.45" fill="none" stroke="#111" stroke-width="0.38"/>
<circle cx="384.14" cy="201.32" r="0.45" fill="none" stroke="#111" stroke-width="0.38"/>
<circle cx="387.79" cy="197.82" r="0.45" fill="none" stroke="#111" stroke-width="0.38"/>
<circle cx="386.42" cy="198.22" r="0.45" fill="none" stroke="#111" stroke-width="0.38"/>
<circle cx="385.23" cy="201.73" r="0.45" fill="none" stroke="#111" stroke-width="0.38"/>
<circle cx="385.90" cy="198.13" r="0.45" fill="none" stroke="#111" stroke-width="0.38"/>
<circle cx="380.59" cy="199.01" r="0.45" fill="none" stroke="#111" stroke-width="0.38"/>
<circle cx="379.98" cy="197.47" r="0.45" fill="none" stroke="#111" stroke-width="0.38"/>
<circle cx="386.28" cy="199.88" r="0.45" fill="none" stroke="#111" stroke-width="0.38"/>
<circle cx="392.71" cy="205.74" r="0.45" fill="none" stroke="#111" stroke-width="0.38"/>
<circle cx="394.80" cy="201.05" r="0.45" fill="none" stroke="#111" stroke-width="0.38"/>
<circle cx="374.33" cy="194.69" r="0.45" fill="none" stroke="#111" stroke-width="0.38"/>
<circle cx="386.79" cy="200.16" r="0.45" fill="none" stroke="#111" stroke-width="0.38"/>
<circle cx="386.54" cy="195.20" r="0.45" fill="none" stroke="#111" stroke-width="0.38"/>
<circle cx="383.17" cy="195.28" r="0.45" fill="none" stroke="#111" stroke-width="0.38"/>
<circle cx="381.91" cy="200.09" r="0.45" fill="none" stroke="#111" stroke-width="0.38"/>
<circle cx="383.66" cy="199.86" r="0.45" fill="none" stroke="#111" stroke-width="0.38"/>
<circle cx="382.06" cy="196.24" r="0.45" fill="none" stroke="#111" stroke-width="0.38"/>
<circle cx="384.82" cy="198.77" r="0.45" fill="none" stroke="#111" stroke-width="0.38"/>
<circle cx="389.92" cy="200.81" r="0.45" fill="none" stroke="#111" stroke-width="0.38"/>
<circle cx="392.37" cy="202.34" r="0.45" fill="none" stroke="#111" stroke-width="0.38"/>
<circle cx="389.01" cy="200.44" r="0.45" fill="none" stroke="#111" stroke-width="0.38"/>
<circle cx="389.87" cy="203.81" r="0.45" fill="none" stroke="#111" stroke-width="0.38"/>
<circle cx="384.39" cy="201.53" r="0.45" fill="none" stroke="#111" stroke-width="0.38"/>
<circle cx="383.16" cy="195.25" r="0.45" fill="none" stroke="#111" stroke-width="0.38"/>
<circle cx="374.79" cy="195.75" r="0.45" fill="none" stroke="#111" stroke-width="0.38"/>
<circle cx="382.29" cy="195.94" r="0.45" fill="none" stroke="#111" stroke-width="0.38"/>
<circle cx="381.02" cy="202.73" r="0.45" fill="none" stroke="#111" stroke-width="0.38"/>
<circle cx="377.28" cy="194.71" r="0.45" fill="none" stroke="#111" stroke-width="0.38"/>
<circle cx="381.78" cy="198.93" r="0.45" fill="none" stroke="#111" stroke-width="0.38"/>
<circle cx="377.95" cy="193.27" r="0.45" fill="none" stroke="#111" stroke-width="0.38"/>
<circle cx="384.85" cy="204.31" r="0.45" fill="none" stroke="#111" stroke-width="0.38"/>
<circle cx="391.11" cy="201.77" r="0.45" fill="none" stroke="#111" stroke-width="0.38"/>
<circle cx="384.36" cy="198.94" r="0.45" fill="none" stroke="#111" stroke-width="0.38"/>
<circle cx="381.01" cy="192.44" r="0.45" fill="none" stroke="#111" stroke-width="0.38"/>
<circle cx="386.43" cy="201.56" r="0.45" fill="none" stroke="#111" stroke-width="0.38"/>
<circle cx="381.72" cy="200.94" r="0.45" fill="none" stroke="#111" stroke-width="0.38"/>
<circle cx="379.56" cy="197.25" r="0.45" fill="none" stroke="#111" stroke-width="0.38"/>
<circle cx="384.12" cy="198.91" r="0.45" fill="none" stroke="#111" stroke-width="0.38"/>
<circle cx="385.55" cy="200.69" r="0.45" fill="none" stroke="#111" stroke-width="0.38"/>
<circle cx="384.60" cy="200.25" r="0.45" fill="none" stroke="#111" stroke-width="0.38"/>
<circle cx="391.58" cy="203.75" r="0.45" fill="none" stroke="#111" stroke-width="0.38"/>
<circle cx="386.85" cy="202.96" r="0.45" fill="none" stroke="#111" stroke-width="0.38"/>
<circle cx="381.57" cy="199.56" r="0.45" fill="none" stroke="#111" stroke-width="0.38"/>
<circle cx="379.17" cy="198.86" r="0.45" fill="none" stroke="#111" stroke-width="0.38"/>
<circle cx="381.73" cy="195.83" r="0.45" fill="none" stroke="#111" stroke-width="0.38"/>
<circle cx="383.99" cy="201.49" r="0.45" fill="none" stroke="#111" stroke-width="0.38"/>
<circle cx="386.05" cy="203.22" r="0.45" fill="none" stroke="#111" stroke-width="0.38"/>
<circle cx="384.61" cy="196.59" r="0.45" fill="none" stroke="#111" stroke-width="0.38"/>
<circle cx="385.59" cy="201.10" r="0.45" fill="none" stroke="#111" stroke-width="0.38"/>
<circle cx="379.09" cy="198.24" r="0.45" fill="none" stroke="#111" stroke-width="0.38"/>
<circle cx="386.11" cy="197.71" r="0.45" fill="none" stroke="#111" stroke-width="0.38"/>
<circle cx="387.53" cy="197.67" r="0.45" fill="none" stroke="#111" stroke-width="0.38"/>
<circle cx="380.19" cy="197.35" r="0.45" fill="none" stroke="#111" stroke-width="0.38"/>
<circle cx="378.21" cy="194.77" r="0.45" fill="none" stroke="#111" stroke-width="0.38"/>
<circle cx="377.97" cy="196.69" r="0.45" fill="none" stroke="#111" stroke-width="0.38"/>
<circle cx="381.06" cy="197.34" r="0.45" fill="none" stroke="#111" stroke-width="0.38"/>
<circle cx="378.97" cy="194.19" r="0.45" fill="none" stroke="#111" stroke-width="0.38"/>
<circle cx="386.83" cy="202.49" r="0.45" fill="none" stroke="#111" stroke-width="0.38"/>
<circle cx="375.90" cy="195.70" r="0.45" fill="none" stroke="#111" stroke-width="0.38"/>
<circle cx="387.83" cy="200.74" r="0.45" fill="none" stroke="#111" stroke-width="0.38"/>
<circle cx="390.74" cy="200.88" r="0.45" fill="none" stroke="#111" stroke-width="0.38"/>
<circle cx="382.08" cy="200.90" r="0.45" fill="none" stroke="#111" stroke-width="0.38"/>
<circle cx="386.98" cy="205.07" r="0.45" fill="none" stroke="#111" stroke-width="0.38"/>
<circle cx="382.54" cy="192.56" r="0.45" fill="none" stroke="#111" stroke-width="0.38"/>
<circle cx="387.50" cy="197.33" r="0.45" fill="none" stroke="#111" stroke-width="0.38"/>
<circle cx="385.36" cy="196.18" r="0.45" fill="none" stroke="#111" stroke-width="0.38"/>
<circle cx="386.75" cy="203.47" r="0.45" fill="none" stroke="#111" stroke-width="0.38"/>
<circle cx="386.02" cy="200.57" r="0.45" fill="none" stroke="#111" stroke-width="0.38"/>
<circle cx="384.60" cy="198.56" r="0.45" fill="none" stroke="#111" stroke-width="0.38"/>
<circle cx="385.05" cy="200.54" r="0.45" fill="none" stroke="#111" stroke-width="0.38"/>
<circle cx="386.31" cy="199.44" r="0.45" fill="none" stroke="#111" stroke-width="0.38"/>
<circle cx="390.58" cy="204.78" r="0.45" fill="none" stroke="#111" stroke-width="0.38"/>
<circle cx="387.22" cy="205.40" r="0.45" fill="none" stroke="#111" stroke-width="0.38"/>
<circle cx="383.19" cy="193.34" r="0.45" fill="none" stroke="#111" stroke-width="0.38"/>
<circle cx="389.18" cy="201.73" r="0.45" fill="none" stroke="#111" stroke-width="0.38"/>
<circle cx="384.67" cy="198.73" r="0.45" fill="none" stroke="#111" stroke-width="0.38"/>
<circle cx="386.19" cy="197.08" r="0.45" fill="none" stroke="#111" stroke-width="0.38"/>
<circle cx="384.29" cy="197.82" r="0.45" fill="none" stroke="#111" stroke-width="0.38"/>
<circle cx="387.31" cy="194.47" r="0.45" fill="none" stroke="#111" stroke-width="0.38"/>
<circle cx="386.54" cy="201.90" r="0.45" fill="none" stroke="#111" stroke-width="0.38"/>
<circle cx="378.70" cy="192.82" r="0.45" fill="none" stroke="#111" stroke-width="0.38"/>
<circle cx="383.21" cy="200.29" r="0.45" fill="none" stroke="#111" stroke-width="0.38"/>
<circle cx="382.01" cy="201.66" r="0.45" fill="none" stroke="#111" stroke-width="0.38"/>
<circle cx="385.52" cy="197.14" r="0.45" fill="none" stroke="#111" stroke-width="0.38"/>
<circle cx="380.44" cy="198.56" r="0.45" fill="none" stroke="#111" stroke-width="0.38"/>
<circle cx="380.53" cy="198.92" r="0.45" fill="none" stroke="#111" stroke-width="0.38"/>
<circle cx="386.91" cy="202.95" r="0.45" fill="none" stroke="#111" stroke-width="0.38"/>
<circle cx="387.99" cy="201.47" r="0.45" fill="none" stroke="#111" stroke-width="0.38"/>
<circle cx="384.82" cy="197.84" r="0.45" fill="none" stroke="#111" stroke-width="0.38"/>
<circle cx="384.01" cy="194.31" r="0.45" fill="none" stroke="#111" stroke-width="0.38"/>
<circle cx="383.50" cy="195.41" r="0.45" fill="none" stroke="#111" stroke-width="0.38"/>
<circle cx="378.54" cy="195.34" r="0.45" fill="none" stroke="#111" stroke-width="0.38"/>
<circle cx="386.17" cy="199.60" r="0.45" fill="none" stroke="#111" stroke-width="0.38"/>
<circle cx="387.68" cy="204.58" r="0.45" fill="none" stroke="#111" stroke-width="0.38"/>
<circle cx="388.71" cy="200.72" r="0.45" fill="none" stroke="#111" stroke-width="0.38"/>
<circle cx="377.71" cy="195.95" r="0.45" fill="none" stroke="#111" stroke-width="0.38"/>
<circle cx="384.09" cy="201.24" r="0.45" fill="none" stroke="#111" stroke-width="0.38"/>
<circle cx="383.72" cy="202.57" r="0.45" fill="none" stroke="#111" stroke-width="0.38"/>
<circle cx="381.98" cy="199.49" r="0.45" fill="none" stroke="#111" stroke-width="0.38"/>
<circle cx="384.03" cy="192.10" r="0.45" fill="none" stroke="#111" stroke-width="0.38"/>
<circle cx="380.21" cy="200.65" r="0.45" fill="none" stroke="#111" stroke-width="0.38"/>
<circle cx="376.37" cy="196.33" r="0.45" fill="none" stroke="#111" stroke-width="0.38"/>
<circle cx="382.08" cy="196.36" r="0.45" fill="none" stroke="#111" stroke-width="0.38"/>
<circle cx="383.86" cy="199.53" r="0.45" fill="none" stroke="#111" stroke-width="0.38"/>
<circle cx="380.23" cy="196.55" r="0.45" fill="none" stroke="#111" stroke-width="0.38"/>
<circle cx="384.43" cy="201.83" r="0.45" fill="none" stroke="#111" stroke-width="0.38"/>
<circle cx="378.99" cy="199.90" r="0.45" fill="none" stroke="#111" stroke-width="0.38"/>
<circle cx="387.54" cy="208.90" r="0.45" fill="none" stroke="#111" stroke-width="0.38"/>
<circle cx="378.82" cy="195.63" r="0.45" fill="none" stroke="#111" stroke-width="0.38"/>
<circle cx="376.61" cy="194.60" r="0.45" fill="none" stroke="#111" stroke-width="0.38"/>
<circle cx="387.70" cy="198.33" r="0.45" fill="none" stroke="#111" stroke-width="0.38"/>
<circle cx="377.89" cy="194.98" r="0.45" fill="none" stroke="#111" stroke-width="0.38"/>
<circle cx="387.45" cy="199.21" r="0.45" fill="none" stroke="#111" stroke-width="0.38"/>
<circle cx="386.68" cy="193.43" r="0.45" fill="none" stroke="#111" stroke-width="0.38"/>
<circle cx="381.19" cy="197.33" r="0.45" fill="none" stroke="#111" stroke-width="0.38"/>
<circle cx="382.28" cy="202.46" r="0.45" fill="none" stroke="#111" stroke-width="0.38"/>
<circle cx="383.04" cy="191.53" r="0.45" fill="none" stroke="#111" stroke-width="0.38"/>
<circle cx="386.52" cy="199.11" r="0.45" fill="none" stroke="#111" stroke-width="0.38"/>
<circle cx="384.02" cy="201.17" r="0.45" fill="none" stroke="#111" stroke-width="0.38"/>
<circle cx="384.13" cy="203.43" r="0.45" fill="none" stroke="#111" stroke-width="0.38"/>
<circle cx="391.37" cy="199.54" r="0.45" fill="none" stroke="#111" stroke-width="0.38"/>
<circle cx="380.89" cy="202.67" r="0.45" fill="none" stroke="#111" stroke-width="0.38"/>
<circle cx="381.11" cy="199.73" r="0.45" fill="none" stroke="#111" stroke-width="0.38"/>
<circle cx="384.40" cy="198.04" r="0.45" fill="none" stroke="#111" stroke-width="0.38"/>
<circle cx="388.32" cy="205.37" r="0.45" fill="none" stroke="#111" stroke-width="0.38"/>
<circle cx="381.80" cy="200.07" r="0.45" fill="none" stroke="#111" stroke-width="0.38"/>
<circle cx="380.21" cy="193.98" r="0.45" fill="none" stroke="#111" stroke-width="0.38"/>
<circle cx="387.26" cy="201.56" r="0.45" fill="none" stroke="#111" stroke-width="0.38"/>
<circle cx="379.44" cy="196.93" r="0.45" fill="none" stroke="#111" stroke-width="0.38"/>
<circle cx="383.36" cy="202.38" r="0.45" fill="none" stroke="#111" stroke-width="0.38"/>
<circle cx="387.92" cy="201.11" r="0.45" fill="none" stroke="#111" stroke-width="0.38"/>
<circle cx="382.42" cy="197.40" r="0.45" fill="none" stroke="#111" stroke-width="0.38"/>
<circle cx="381.05" cy="201.17" r="0.45" fill="none" stroke="#111" stroke-width="0.38"/>
<circle cx="387.89" cy="205.99" r="0.45" fill="none" stroke="#111" stroke-width="0.38"/>
<circle cx="385.75" cy="199.58" r="0.45" fill="none" stroke="#111" stroke-width="0.38"/>
<circle cx="387.83" cy="200.82" r="0.45" fill="none" stroke="#111" stroke-width="0.38"/>
<circle cx="387.27" cy="196.45" r="0.45" fill="none" stroke="#111" stroke-width="0.38"/>
<circle cx="380.37" cy="200.60" r="0.45" fill="none" stroke="#111" stroke-width="0.38"/>
<circle cx="382.37" cy="193.30" r="0.45" fill="none" stroke="#111" stroke-width="0.38"/>
<circle cx="381.00" cy="201.75" r="0.45" fill="none" stroke="#111" stroke-width="0.38"/>
<circle cx="389.86" cy="202.31" r="0.45" fill="none" stroke="#111" stroke-width="0.38"/>
<circle cx="382.40" cy="197.47" r="0.45" fill="none" stroke="#111" stroke-width="0.38"/>
<circle cx="380.52" cy="196.50" r="0.45" fill="none" stroke="#111" stroke-width="0.38"/>
<circle cx="385.02" cy="195.34" r="0.45" fill="none" stroke="#111" stroke-width="0.38"/>
<circle cx="382.24" cy="196.91" r="0.45" fill="none" stroke="#111" stroke-width="0.38"/>
<circle cx="382.44" cy="194.48" r="0.45" fill="none" stroke="#111" stroke-width="0.38"/>
<circle cx="384.60" cy="205.14" r="0.45" fill="none" stroke="#111" stroke-width="0.38"/>
<circle cx="383.55" cy="197.39" r="0.45" fill="none" stroke="#111" stroke-width="0.38"/>
<circle cx="386.18" cy="199.95" r="0.45" fill="none" stroke="#111" stroke-width="0.38"/>
<circle cx="379.12" cy="199.51" r="0.45" fill="none" stroke="#111" stroke-width="0.38"/>
<circle cx="381.22" cy="194.72" r="0.45" fill="none" stroke="#111" stroke-width="0.38"/>
<circle cx="382.83" cy="195.47" r="0.45" fill="none" stroke="#111" stroke-width="0.38"/>
<circle cx="382.29" cy="199.45" r="0.45" fill="none" stroke="#111" stroke-width="0.38"/>
<circle cx="388.35" cy="204.25" r="0.45" fill="none" stroke="#111" stroke-width="0.38"/>
<circle cx="385.93" cy="196.69" r="0.45" fill="none" stroke="#111" stroke-width="0.38"/>
<circle cx="385.13" cy="197.02" r="0.45" fill="none" stroke="#111" stroke-width="0.38"/>
<circle cx="382.23" cy="200.61" r="0.45" fill="none" stroke="#111" stroke-width="0.38"/>
<circle cx="385.05" cy="199.16" r="0.45" fill="none" stroke="#111" stroke-width="0.38"/>
<circle cx="381.26" cy="196.88" r="0.45" fill="none" stroke="#111" stroke-width="0.38"/>
<circle cx="385.74" cy="197.52" r="0.45" fill="none" stroke="#111" stroke-width="0.38"/>
<circle cx="380.87" cy="199.30" r="0.45" fill="none" stroke="#111" stroke-width="0.38"/>
<circle cx="378.53" cy="193.57" r="0.45" fill="none" stroke="#111" stroke-width="0.38"/>
<circle cx="377.48" cy="198.75" r="0.45" fill="none" stroke="#111" stroke-width="0.38"/>
<circle cx="385.49" cy="201.66" r="0.45" fill="none" stroke="#111" stroke-width="0.38"/>
<circle cx="385.05" cy="200.64" r="0.45" fill="none" stroke="#111" stroke-width="0.38"/>
<circle cx="387.36" cy="196.76" r="0.45" fill="none" stroke="#111" stroke-width="0.38"/>
<circle cx="384.09" cy="200.85" r="0.45" fill="none" stroke="#111" stroke-width="0.38"/>
<circle cx="377.56" cy="196.64" r="0.45" fill="none" stroke="#111" stroke-width="0.38"/>
<circle cx="388.65" cy="197.92" r="0.45" fill="none" stroke="#111" stroke-width="0.38"/>
<circle cx="382.71" cy="197.11" r="0.45" fill="none" stroke="#111" stroke-width="0.38"/>
<circle cx="381.50" cy="198.30" r="0.45" fill="none" stroke="#111" stroke-width="0.38"/>
<circle cx="379.62" cy="195.05" r="0.45" fill="none" stroke="#111" stroke-width="0.38"/>
<circle cx="383.78" cy="201.01" r="0.45" fill="none" stroke="#111" stroke-width="0.38"/>
<circle cx="384.53" cy="198.67" r="0.45" fill="none" stroke="#111" stroke-width="0.38"/>
<circle cx="389.41" cy="197.09" r="0.45" fill="none" stroke="#111" stroke-width="0.38"/>
<circle cx="387.88" cy="200.99" r="0.45" fill="none" stroke="#111" stroke-width="0.38"/>
<circle cx="380.01" cy="194.72" r="0.45" fill="none" stroke="#111" stroke-width="0.38"/>
<circle cx="380.20" cy="190.01" r="0.45" fill="none" stroke="#111" stroke-width="0.38"/>
<circle cx="383.92" cy="196.60" r="0.45" fill="none" stroke="#111" stroke-width="0.38"/>
<circle cx="387.98" cy="199.32" r="0.45" fill="none" stroke="#111" stroke-width="0.38"/>
<circle cx="380.61" cy="193.59" r="0.45" fill="none" stroke="#111" stroke-width="0.38"/>
<circle cx="390.28" cy="203.78" r="0.45" fill="none" stroke="#111" stroke-width="0.38"/>
<circle cx="383.18" cy="195.41" r="0.45" fill="none" stroke="#111" stroke-width="0.38"/>
<circle cx="380.19" cy="195.65" r="0.45" fill="none" stroke="#111" stroke-width="0.38"/>
<circle cx="383.91" cy="202.39" r="0.45" fill="none" stroke="#111" stroke-width="0.38"/>
<circle cx="387.83" cy="202.69" r="0.45" fill="none" stroke="#111" stroke-width="0.38"/>
<circle cx="382.81" cy="195.53" r="0.45" fill="none" stroke="#111" stroke-width="0.38"/>
<circle cx="376.95" cy="190.66" r="0.45" fill="none" stroke="#111" stroke-width="0.38"/>
<circle cx="386.03" cy="199.51" r="0.45" fill="none" stroke="#111" stroke-width="0.38"/>
<circle cx="387.29" cy="197.43" r="0.45" fill="none" stroke="#111" stroke-width="0.38"/>
<circle cx="386.88" cy="202.04" r="0.45" fill="none" stroke="#111" stroke-width="0.38"/>
<circle cx="383.58" cy="199.88" r="0.45" fill="none" stroke="#111" stroke-width="0.38"/>
<circle cx="376.57" cy="191.76" r="0.45" fill="none" stroke="#111" stroke-width="0.38"/>
<circle cx="378.09" cy="200.01" r="0.45" fill="none" stroke="#111" stroke-width="0.38"/>
<circle cx="384.05" cy="197.53" r="0.45" fill="none" stroke="#111" stroke-width="0.38"/>
<circle cx="388.66" cy="199.33" r="0.45" fill="none" stroke="#111" stroke-width="0.38"/>
<circle cx="390.25" cy="201.58" r="0.45" fill="none" stroke="#111" stroke-width="0.38"/>
<circle cx="385.10" cy="197.08" r="0.45" fill="none" stroke="#111" stroke-width="0.38"/>
<circle cx="390.10" cy="197.06" r="0.45" fill="none" stroke="#111" stroke-width="0.38"/>
<circle cx="387.72" cy="199.33" r="0.45" fill="none" stroke="#111" stroke-width="0.38"/>
<circle cx="385.84" cy="196.93" r="0.45" fill="none" stroke="#111" stroke-width="0.38"/>
<circle cx="384.57" cy="199.99" r="0.45" fill="none" stroke="#111" stroke-width="0.38"/>
<circle cx="385.72" cy="201.23" r="0.45" fill="none" stroke="#111" stroke-width="0.38"/>
<circle cx="384.86" cy="202.63" r="0.45" fill="none" stroke="#111" stroke-width="0.38"/>
<circle cx="384.27" cy="195.66" r="0.45" fill="none" stroke="#111" stroke-width="0.38"/>
<circle cx="378.32" cy="196.78" r="0.45" fill="none" stroke="#111" stroke-width="0.38"/>
<circle cx="381.10" cy="199.98" r="0.45" fill="none" stroke="#111" stroke-width="0.38"/>
<circle cx="385.62" cy="197.18" r="0.45" fill="none" stroke="#111" stroke-width="0.38"/>
<circle cx="384.53" cy="205.23" r="0.45" fill="none" stroke="#111" stroke-width="0.38"/>
<circle cx="384.69" cy="196.70" r="0.45" fill="none" stroke="#111" stroke-width="0.38"/>
<circle cx="379.61" cy="198.37" r="0.45" fill="none" stroke="#111" stroke-width="0.38"/>
<circle cx="382.43" cy="196.61" r="0.45" fill="none" stroke="#111" stroke-width="0.38"/>
<circle cx="386.50" cy="200.91" r="0.45" fill="none" stroke="#111" stroke-width="0.38"/>
<circle cx="385.21" cy="198.27" r="0.45" fill="none" stroke="#111" stroke-width="0.38"/>
<circle cx="381.41" cy="197.55" r="0.45" fill="none" stroke="#111" stroke-width="0.38"/>
<circle cx="383.72" cy="200.56" r="0.45" fill="none" stroke="#111" stroke-width="0.38"/>
<circle cx="381.67" cy="198.28" r="0.45" fill="none" stroke="#111" stroke-width="0.38"/>
<circle cx="385.63" cy="200.47" r="0.45" fill="none" stroke="#111" stroke-width="0.38"/>
<circle cx="384.64" cy="202.52" r="0.45" fill="none" stroke="#111" stroke-width="0.38"/>
<circle cx="384.62" cy="199.70" r="0.45" fill="none" stroke="#111" stroke-width="0.38"/>
<circle cx="379.96" cy="196.95" r="0.45" fill="none" stroke="#111" stroke-width="0.38"/>
<circle cx="384.10" cy="198.15" r="0.45" fill="none" stroke="#111" stroke-width="0.38"/>
<circle cx="380.14" cy="197.82" r="0.45" fill="none" stroke="#111" stroke-width="0.38"/>
<circle cx="392.79" cy="206.89" r="0.45" fill="none" stroke="#111" stroke-width="0.38"/>
<circle cx="383.69" cy="200.08" r="0.45" fill="none" stroke="#111" stroke-width="0.38"/>
<circle cx="381.68" cy="197.55" r="0.45" fill="none" stroke="#111" stroke-width="0.38"/>
<circle cx="382.49" cy="195.94" r="0.45" fill="none" stroke="#111" stroke-width="0.38"/>
<circle cx="384.52" cy="200.08" r="0.45" fill="none" stroke="#111" stroke-width="0.38"/>
<circle cx="384.73" cy="197.17" r="0.45" fill="none" stroke="#111" stroke-width="0.38"/>
<circle cx="386.54" cy="197.64" r="0.45" fill="none" stroke="#111" stroke-width="0.38"/>
<circle cx="387.34" cy="200.47" r="0.45" fill="none" stroke="#111" stroke-width="0.38"/>
<circle cx="382.87" cy="200.51" r="0.45" fill="none" stroke="#111" stroke-width="0.38"/>
<circle cx="387.91" cy="198.05" r="0.45" fill="none" stroke="#111" stroke-width="0.38"/>
<circle cx="382.56" cy="199.02" r="0.45" fill="none" stroke="#111" stroke-width="0.38"/>
<circle cx="383.46" cy="191.38" r="0.45" fill="none" stroke="#111" stroke-width="0.38"/>
<circle cx="383.80" cy="198.71" r="0.45" fill="none" stroke="#111" stroke-width="0.38"/>
<circle cx="385.46" cy="200.34" r="0.45" fill="none" stroke="#111" stroke-width="0.38"/>
<circle cx="384.14" cy="199.82" r="0.45" fill="none" stroke="#111" stroke-width="0.38"/>
<circle cx="388.36" cy="203.72" r="0.45" fill="none" stroke="#111" stroke-width="0.38"/>
<circle cx="386.56" cy="199.74" r="0.45" fill="none" stroke="#111" stroke-width="0.38"/>
<circle cx="388.40" cy="201.74" r="0.45" fill="none" stroke="#111" stroke-width="0.38"/>
<circle cx="389.75" cy="196.99" r="0.45" fill="none" stroke="#111" stroke-width="0.38"/>
<circle cx="385.04" cy="199.49" r="0.45" fill="none" stroke="#111" stroke-width="0.38"/>
<circle cx="380.45" cy="200.20" r="0.45" fill="none" stroke="#111" stroke-width="0.38"/>
<circle cx="385.69" cy="199.85" r="0.45" fill="none" stroke="#111" stroke-width="0.38"/>
<circle cx="379.37" cy="201.15" r="0.45" fill="none" stroke="#111" stroke-width="0.38"/>
<circle cx="385.80" cy="202.32" r="0.45" fill="none" stroke="#111" stroke-width="0.38"/>
<circle cx="379.32" cy="199.40" r="0.45" fill="none" stroke="#111" stroke-width="0.38"/>
<circle cx="386.44" cy="200.02" r="0.45" fill="none" stroke="#111" stroke-width="0.38"/>
<circle cx="385.95" cy="195.59" r="0.45" fill="none" stroke="#111" stroke-width="0.38"/>
<circle cx="387.96" cy="198.70" r="0.45" fill="none" stroke="#111" stroke-width="0.38"/>
<circle cx="387.73" cy="200.48" r="0.45" fill="none" stroke="#111" stroke-width="0.38"/>
<circle cx="381.18" cy="197.99" r="0.45" fill="none" stroke="#111" stroke-width="0.38"/>
<circle cx="386.40" cy="197.42" r="0.45" fill="none" stroke="#111" stroke-width="0.38"/>
<circle cx="382.85" cy="199.96" r="0.45" fill="none" stroke="#111" stroke-width="0.38"/>
<circle cx="385.01" cy="195.73" r="0.45" fill="none" stroke="#111" stroke-width="0.38"/>
<circle cx="384.49" cy="196.49" r="0.45" fill="none" stroke="#111" stroke-width="0.38"/>
<circle cx="381.81" cy="197.50" r="0.45" fill="none" stroke="#111" stroke-width="0.38"/>
<circle cx="384.11" cy="198.45" r="0.45" fill="none" stroke="#111" stroke-width="0.38"/>
<circle cx="377.43" cy="195.12" r="0.45" fill="none" stroke="#111" stroke-width="0.38"/>
<circle cx="383.85" cy="197.67" r="0.45" fill="none" stroke="#111" stroke-width="0.38"/>
<circle cx="381.81" cy="203.11" r="0.45" fill="none" stroke="#111" stroke-width="0.38"/>
<circle cx="381.58" cy="192.38" r="0.45" fill="none" stroke="#111" stroke-width="0.38"/>
<circle cx="387.93" cy="199.59" r="0.45" fill="none" stroke="#111" stroke-width="0.38"/>
<circle cx="390.18" cy="200.69" r="0.45" fill="none" stroke="#111" stroke-width="0.38"/>
<circle cx="381.03" cy="199.26" r="0.45" fill="none" stroke="#111" stroke-width="0.38"/>
<circle cx="386.71" cy="202.35" r="0.45" fill="none" stroke="#111" stroke-width="0.38"/>
<circle cx="385.85" cy="200.00" r="0.45" fill="none" stroke="#111" stroke-width="0.38"/>
<circle cx="382.68" cy="197.40" r="0.45" fill="none" stroke="#111" stroke-width="0.38"/>
<circle cx="387.64" cy="203.84" r="0.45" fill="none" stroke="#111" stroke-width="0.38"/>
<circle cx="383.61" cy="199.66" r="0.45" fill="none" stroke="#111" stroke-width="0.38"/>
<circle cx="385.34" cy="203.54" r="0.45" fill="none" stroke="#111" stroke-width="0.38"/>
<circle cx="383.63" cy="198.49" r="0.45" fill="none" stroke="#111" stroke-width="0.38"/>
<circle cx="381.48" cy="204.89" r="0.45" fill="none" stroke="#111" stroke-width="0.38"/>
<circle cx="383.07" cy="202.09" r="0.45" fill="none" stroke="#111" stroke-width="0.38"/>
<circle cx="377.17" cy="196.41" r="0.45" fill="none" stroke="#111" stroke-width="0.38"/>
<circle cx="380.41" cy="193.08" r="0.45" fill="none" stroke="#111" stroke-width="0.38"/>
<circle cx="381.89" cy="196.99" r="0.45" fill="none" stroke="#111" stroke-width="0.38"/>
<circle cx="384.13" cy="200.19" r="0.45" fill="none" stroke="#111" stroke-width="0.38"/>
<circle cx="385.45" cy="198.78" r="0.45" fill="none" stroke="#111" stroke-width="0.38"/>
<circle cx="392.92" cy="206.86" r="0.45" fill="none" stroke="#111" stroke-width="0.38"/>
<circle cx="383.55" cy="204.69" r="0.45" fill="none" stroke="#111" stroke-width="0.38"/>
<circle cx="386.71" cy="202.75" r="0.45" fill="none" stroke="#111" stroke-width="0.38"/>
<circle cx="382.51" cy="203.44" r="0.45" fill="none" stroke="#111" stroke-width="0.38"/>
<circle cx="381.42" cy="194.22" r="0.45" fill="none" stroke="#111" stroke-width="0.38"/>
<circle cx="387.44" cy="195.52" r="0.45" fill="none" stroke="#111" stroke-width="0.38"/>
<circle cx="379.55" cy="199.02" r="0.45" fill="none" stroke="#111" stroke-width="0.38"/>
<circle cx="382.08" cy="198.05" r="0.45" fill="none" stroke="#111" stroke-width="0.38"/>
<circle cx="388.19" cy="198.68" r="0.45" fill="none" stroke="#111" stroke-width="0.38"/>
<circle cx="385.89" cy="198.54" r="0.45" fill="none" stroke="#111" stroke-width="0.38"/>
<circle cx="380.41" cy="195.49" r="0.45" fill="none" stroke="#111" stroke-width="0.38"/>
<circle cx="384.37" cy="198.09" r="0.45" fill="none" stroke="#111" stroke-width="0.38"/>
<circle cx="380.23" cy="199.01" r="0.45" fill="none" stroke="#111" stroke-width="0.38"/>
<circle cx="387.41" cy="203.21" r="0.45" fill="none" stroke="#111" stroke-width="0.38"/>
<circle cx="385.15" cy="196.73" r="0.45" fill="none" stroke="#111" stroke-width="0.38"/>
<circle cx="382.59" cy="194.65" r="0.45" fill="none" stroke="#111" stroke-width="0.38"/>
<circle cx="376.28" cy="189.45" r="0.45" fill="none" stroke="#111" stroke-width="0.38"/>
<circle cx="391.91" cy="189.35" r="0.45" fill="none" stroke="#111" stroke-width="0.38"/>
<circle cx="380.62" cy="187.59" r="0.45" fill="none" stroke="#111" stroke-width="0.38"/>
<circle cx="376.36" cy="188.16" r="0.45" fill="none" stroke="#111" stroke-width="0.38"/>
<circle cx="390.62" cy="192.08" r="0.45" fill="none" stroke="#111" stroke-width="0.38"/>
<circle cx="389.49" cy="193.91" r="0.45" fill="none" stroke="#111" stroke-width="0.38"/>
<circle cx="384.24" cy="193.52" r="0.45" fill="none" stroke="#111" stroke-width="0.38"/>
<circle cx="382.71" cy="189.93" r="0.45" fill="none" stroke="#111" stroke-width="0.38"/>
<circle cx="390.96" cy="193.32" r="0.45" fill="none" stroke="#111" stroke-width="0.38"/>
<circle cx="390.99" cy="190.39" r="0.45" fill="none" stroke="#111" stroke-width="0.38"/>
<circle cx="387.47" cy="189.85" r="0.45" fill="none" stroke="#111" stroke-width="0.38"/>
<circle cx="391.95" cy="193.44" r="0.45" fill="none" stroke="#111" stroke-width="0.38"/>
<circle cx="377.84" cy="193.54" r="0.45" fill="none" stroke="#111" stroke-width="0.38"/>
<circle cx="375.69" cy="187.67" r="0.45" fill="none" stroke="#111" stroke-width="0.38"/>
<circle cx="386.45" cy="189.06" r="0.45" fill="none" stroke="#111" stroke-width="0.38"/>
<circle cx="382.39" cy="191.47" r="0.45" fill="none" stroke="#111" stroke-width="0.38"/>
<circle cx="372.81" cy="192.22" r="0.45" fill="none" stroke="#111" stroke-width="0.38"/>
<circle cx="377.52" cy="190.03" r="0.45" fill="none" stroke="#111" stroke-width="0.38"/>
<circle cx="378.90" cy="192.19" r="0.45" fill="none" stroke="#111" stroke-width="0.38"/>
<circle cx="386.94" cy="189.01" r="0.45" fill="none" stroke="#111" stroke-width="0.38"/>
<circle cx="374.07" cy="189.10" r="0.45" fill="none" stroke="#111" stroke-width="0.38"/>
<circle cx="380.22" cy="187.54" r="0.45" fill="none" stroke="#111" stroke-width="0.38"/>
<circle cx="375.06" cy="192.34" r="0.45" fill="none" stroke="#111" stroke-width="0.38"/>
<circle cx="386.01" cy="193.83" r="0.45" fill="none" stroke="#111" stroke-width="0.38"/>
<circle cx="391.59" cy="193.13" r="0.45" fill="none" stroke="#111" stroke-width="0.38"/>
<circle cx="379.45" cy="188.13" r="0.45" fill="none" stroke="#111" stroke-width="0.38"/>
<circle cx="378.24" cy="190.24" r="0.45" fill="none" stroke="#111" stroke-width="0.38"/>
<circle cx="382.52" cy="190.79" r="0.45" fill="none" stroke="#111" stroke-width="0.38"/>
<circle cx="379.19" cy="192.97" r="0.45" fill="none" stroke="#111" stroke-width="0.38"/>
<circle cx="377.70" cy="190.24" r="0.45" fill="none" stroke="#111" stroke-width="0.38"/>
<circle cx="338.38" cy="235.63" r="0.45" fill="none" stroke="#111" stroke-width="0.38"/>
<circle cx="331.02" cy="235.09" r="0.45" fill="none" stroke="#111" stroke-width="0.38"/>
<circle cx="332.92" cy="234.29" r="0.45" fill="none" stroke="#111" stroke-width="0.38"/>
<circle cx="334.06" cy="237.87" r="0.45" fill="none" stroke="#111" stroke-width="0.38"/>
<circle cx="330.94" cy="232.80" r="0.45" fill="none" stroke="#111" stroke-width="0.38"/>
<circle cx="334.34" cy="236.25" r="0.45" fill="none" stroke="#111" stroke-width="0.38"/>
<circle cx="334.44" cy="232.86" r="0.45" fill="none" stroke="#111" stroke-width="0.38"/>
<circle cx="338.32" cy="238.09" r="0.45" fill="none" stroke="#111" stroke-width="0.38"/>
<circle cx="333.47" cy="234.96" r="0.45" fill="none" stroke="#111" stroke-width="0.38"/>
<circle cx="332.61" cy="234.80" r="0.45" fill="none" stroke="#111" stroke-width="0.38"/>
<circle cx="329.54" cy="233.09" r="0.45" fill="none" stroke="#111" stroke-width="0.38"/>
<circle cx="335.82" cy="237.86" r="0.45" fill="none" stroke="#111" stroke-width="0.38"/>
<circle cx="334.24" cy="236.89" r="0.45" fill="none" stroke="#111" stroke-width="0.38"/>
<circle cx="330.43" cy="237.50" r="0.45" fill="none" stroke="#111" stroke-width="0.38"/>
<circle cx="330.01" cy="233.46" r="0.45" fill="none" stroke="#111" stroke-width="0.38"/>
<circle cx="335.42" cy="237.27" r="0.45" fill="none" stroke="#111" stroke-width="0.38"/>
<circle cx="330.70" cy="230.15" r="0.45" fill="none" stroke="#111" stroke-width="0.38"/>
<circle cx="338.63" cy="236.43" r="0.45" fill="none" stroke="#111" stroke-width="0.38"/>
<circle cx="331.95" cy="235.33" r="0.45" fill="none" stroke="#111" stroke-width="0.38"/>
<circle cx="335.11" cy="231.65" r="0.45" fill="none" stroke="#111" stroke-width="0.38"/>
<circle cx="326.86" cy="229.82" r="0.45" fill="none" stroke="#111" stroke-width="0.38"/>
<circle cx="330.53" cy="232.17" r="0.45" fill="none" stroke="#111" stroke-width="0.38"/>
<circle cx="332.68" cy="234.88" r="0.45" fill="none" stroke="#111" stroke-width="0.38"/>
<circle cx="330.56" cy="228.49" r="0.45" fill="none" stroke="#111" stroke-width="0.38"/>
<circle cx="336.30" cy="235.53" r="0.45" fill="none" stroke="#111" stroke-width="0.38"/>
<circle cx="331.47" cy="228.35" r="0.45" fill="none" stroke="#111" stroke-width="0.38"/>
<circle cx="335.83" cy="233.54" r="0.45" fill="none" stroke="#111" stroke-width="0.38"/>
<circle cx="328.58" cy="233.01" r="0.45" fill="none" stroke="#111" stroke-width="0.38"/>
<circle cx="332.84" cy="236.05" r="0.45" fill="none" stroke="#111" stroke-width="0.38"/>
<circle cx="332.26" cy="226.67" r="0.45" fill="none" stroke="#111" stroke-width="0.38"/>
<circle cx="329.92" cy="231.61" r="0.45" fill="none" stroke="#111" stroke-width="0.38"/>
<circle cx="329.43" cy="234.34" r="0.45" fill="none" stroke="#111" stroke-width="0.38"/>
<circle cx="335.03" cy="233.50" r="0.45" fill="none" stroke="#111" stroke-width="0.38"/>
<circle cx="334.54" cy="235.47" r="0.45" fill="none" stroke="#111" stroke-width="0.38"/>
<circle cx="329.69" cy="235.15" r="0.45" fill="none" stroke="#111" stroke-width="0.38"/>
<circle cx="326.13" cy="232.24" r="0.45" fill="none" stroke="#111" stroke-width="0.38"/>
<circle cx="338.56" cy="233.50" r="0.45" fill="none" stroke="#111" stroke-width="0.38"/>
<circle cx="332.21" cy="233.68" r="0.45" fill="none" stroke="#111" stroke-width="0.38"/>
<circle cx="329.80" cy="230.80" r="0.45" fill="none" stroke="#111" stroke-width="0.38"/>
<circle cx="330.00" cy="232.62" r="0.45" fill="none" stroke="#111" stroke-width="0.38"/>
<circle cx="333.55" cy="229.52" r="0.45" fill="none" stroke="#111" stroke-width="0.38"/>
<circle cx="335.19" cy="238.68" r="0.45" fill="none" stroke="#111" stroke-width="0.38"/>
<circle cx="328.91" cy="233.92" r="0.45" fill="none" stroke="#111" stroke-width="0.38"/>
<circle cx="340.83" cy="236.51" r="0.45" fill="none" stroke="#111" stroke-width="0.38"/>
<circle cx="331.98" cy="232.58" r="0.45" fill="none" stroke="#111" stroke-width="0.38"/>
<circle cx="334.71" cy="235.19" r="0.45" fill="none" stroke="#111" stroke-width="0.38"/>
<circle cx="326.67" cy="233.25" r="0.45" fill="none" stroke="#111" stroke-width="0.38"/>
<circle cx="330.68" cy="234.87" r="0.45" fill="none" stroke="#111" stroke-width="0.38"/>
<circle cx="340.65" cy="238.49" r="0.45" fill="none" stroke="#111" stroke-width="0.38"/>
<circle cx="330.17" cy="234.97" r="0.45" fill="none" stroke="#111" stroke-width="0.38"/>
<circle cx="331.61" cy="235.03" r="0.45" fill="none" stroke="#111" stroke-width="0.38"/>
<circle cx="329.06" cy="239.10" r="0.45" fill="none" stroke="#111" stroke-width="0.38"/>
<circle cx="334.15" cy="236.47" r="0.45" fill="none" stroke="#111" stroke-width="0.38"/>
<circle cx="332.50" cy="235.34" r="0.45" fill="none" stroke="#111" stroke-width="0.38"/>
<circle cx="327.87" cy="230.14" r="0.45" fill="none" stroke="#111" stroke-width="0.38"/>
<circle cx="336.43" cy="234.12" r="0.45" fill="none" stroke="#111" stroke-width="0.38"/>
<circle cx="332.85" cy="234.34" r="0.45" fill="none" stroke="#111" stroke-width="0.38"/>
<circle cx="327.86" cy="237.40" r="0.45" fill="none" stroke="#111" stroke-width="0.38"/>
<circle cx="334.41" cy="236.63" r="0.45" fill="none" stroke="#111" stroke-width="0.38"/>
<circle cx="330.04" cy="232.71" r="0.45" fill="none" stroke="#111" stroke-width="0.38"/>
<circle cx="331.78" cy="233.55" r="0.45" fill="none" stroke="#111" stroke-width="0.38"/>
<circle cx="330.14" cy="239.13" r="0.45" fill="none" stroke="#111" stroke-width="0.38"/>
<circle cx="334.63" cy="240.41" r="0.45" fill="none" stroke="#111" stroke-width="0.38"/>
<circle cx="333.33" cy="242.36" r="0.45" fill="none" stroke="#111" stroke-width="0.38"/>
<circle cx="332.16" cy="230.70" r="0.45" fill="none" stroke="#111" stroke-width="0.38"/>
<circle cx="332.93" cy="235.33" r="0.45" fill="none" stroke="#111" stroke-width="0.38"/>
<circle cx="333.50" cy="233.44" r="0.45" fill="none" stroke="#111" stroke-width="0.38"/>
<circle cx="332.57" cy="238.91" r="0.45" fill="none" stroke="#111" stroke-width="0.38"/>
<circle cx="333.58" cy="234.55" r="0.45" fill="none" stroke="#111" stroke-width="0.38"/>
<circle cx="336.72" cy="236.70" r="0.45" fill="none" stroke="#111" stroke-width="0.38"/>
<circle cx="331.10" cy="234.12" r="0.45" fill="none" stroke="#111" stroke-width="0.38"/>
<circle cx="323.11" cy="232.24" r="0.45" fill="none" stroke="#111" stroke-width="0.38"/>
<circle cx="331.63" cy="235.04" r="0.45" fill="none" stroke="#111" stroke-width="0.38"/>
<circle cx="333.07" cy="235.84" r="0.45" fill="none" stroke="#111" stroke-width="0.38"/>
<circle cx="326.21" cy="234.27" r="0.45" fill="none" stroke="#111" stroke-width="0.38"/>
<circle cx="334.02" cy="236.26" r="0.45" fill="none" stroke="#111" stroke-width="0.38"/>
<circle cx="344.04" cy="239.66" r="0.45" fill="none" stroke="#111" stroke-width="0.38"/>
<circle cx="335.04" cy="235.99" r="0.45" fill="none" stroke="#111" stroke-width="0.38"/>
<circle cx="325.48" cy="234.17" r="0.45" fill="none" stroke="#111" stroke-width="0.38"/>
<circle cx="327.57" cy="231.01" r="0.45" fill="none" stroke="#111" stroke-width="0.38"/>
<circle cx="332.11" cy="234.53" r="0.45" fill="none" stroke="#111" stroke-width="0.38"/>
<circle cx="327.95" cy="234.51" r="0.45" fill="none" stroke="#111" stroke-width="0.38"/>
<circle cx="335.01" cy="232.87" r="0.45" fill="none" stroke="#111" stroke-width="0.38"/>
<circle cx="328.47" cy="232.03" r="0.45" fill="none" stroke="#111" stroke-width="0.38"/>
<circle cx="328.44" cy="232.43" r="0.45" fill="none" stroke="#111" stroke-width="0.38"/>
<circle cx="334.37" cy="234.21" r="0.45" fill="none" stroke="#111" stroke-width="0.38"/>
<circle cx="328.22" cy="227.71" r="0.45" fill="none" stroke="#111" stroke-width="0.38"/>
<circle cx="334.38" cy="234.39" r="0.45" fill="none" stroke="#111" stroke-width="0.38"/>
<circle cx="338.97" cy="238.03" r="0.45" fill="none" stroke="#111" stroke-width="0.38"/>
<circle cx="332.95" cy="236.46" r="0.45" fill="none" stroke="#111" stroke-width="0.38"/>
<circle cx="332.51" cy="235.16" r="0.45" fill="none" stroke="#111" stroke-width="0.38"/>
<circle cx="335.95" cy="236.55" r="0.45" fill="none" stroke="#111" stroke-width="0.38"/>
<circle cx="334.12" cy="234.61" r="0.45" fill="none" stroke="#111" stroke-width="0.38"/>
<circle cx="338.65" cy="239.40" r="0.45" fill="none" stroke="#111" stroke-width="0.38"/>
<circle cx="338.98" cy="231.38" r="0.45" fill="none" stroke="#111" stroke-width="0.38"/>
<circle cx="332.51" cy="231.39" r="0.45" fill="none" stroke="#111" stroke-width="0.38"/>
<circle cx="333.29" cy="233.77" r="0.45" fill="none" stroke="#111" stroke-width="0.38"/>
<circle cx="329.68" cy="231.50" r="0.45" fill="none" stroke="#111" stroke-width="0.38"/>
<circle cx="333.80" cy="238.13" r="0.45" fill="none" stroke="#111" stroke-width="0.38"/>
<circle cx="329.61" cy="234.96" r="0.45" fill="none" stroke="#111" stroke-width="0.38"/>
<circle cx="329.90" cy="234.01" r="0.45" fill="none" stroke="#111" stroke-width="0.38"/>
<circle cx="328.61" cy="234.17" r="0.45" fill="none" stroke="#111" stroke-width="0.38"/>
<circle cx="340.23" cy="239.37" r="0.45" fill="none" stroke="#111" stroke-width="0.38"/>
<circle cx="338.26" cy="234.85" r="0.45" fill="none" stroke="#111" stroke-width="0.38"/>
<circle cx="327.28" cy="237.41" r="0.45" fill="none" stroke="#111" stroke-width="0.38"/>
<circle cx="331.76" cy="235.11" r="0.45" fill="none" stroke="#111" stroke-width="0.38"/>
<circle cx="327.55" cy="230.59" r="0.45" fill="none" stroke="#111" stroke-width="0.38"/>
<circle cx="328.64" cy="234.61" r="0.45" fill="none" stroke="#111" stroke-width="0.38"/>
<circle cx="327.73" cy="237.46" r="0.45" fill="none" stroke="#111" stroke-width="0.38"/>
<circle cx="328.78" cy="232.41" r="0.45" fill="none" stroke="#111" stroke-width="0.38"/>
<circle cx="326.87" cy="229.05" r="0.45" fill="none" stroke="#111" stroke-width="0.38"/>
<circle cx="336.54" cy="237.08" r="0.45" fill="none" stroke="#111" stroke-width="0.38"/>
<circle cx="327.93" cy="232.21" r="0.45" fill="none" stroke="#111" stroke-width="0.38"/>
<circle cx="335.02" cy="237.38" r="0.45" fill="none" stroke="#111" stroke-width="0.38"/>
<circle cx="337.50" cy="234.35" r="0.45" fill="none" stroke="#111" stroke-width="0.38"/>
<circle cx="337.40" cy="239.88" r="0.45" fill="none" stroke="#111" stroke-width="0.38"/>
<circle cx="323.67" cy="232.63" r="0.45" fill="none" stroke="#111" stroke-width="0.38"/>
<circle cx="330.50" cy="234.18" r="0.45" fill="none" stroke="#111" stroke-width="0.38"/>
<circle cx="327.21" cy="228.72" r="0.45" fill="none" stroke="#111" stroke-width="0.38"/>
<circle cx="325.84" cy="231.55" r="0.45" fill="none" stroke="#111" stroke-width="0.38"/>
<circle cx="333.05" cy="232.32" r="0.45" fill="none" stroke="#111" stroke-width="0.38"/>
<circle cx="330.02" cy="235.43" r="0.45" fill="none" stroke="#111" stroke-width="0.38"/>
<circle cx="329.45" cy="233.54" r="0.45" fill="none" stroke="#111" stroke-width="0.38"/>
<circle cx="331.01" cy="228.84" r="0.45" fill="none" stroke="#111" stroke-width="0.38"/>
<circle cx="331.45" cy="232.79" r="0.45" fill="none" stroke="#111" stroke-width="0.38"/>
<circle cx="331.97" cy="236.41" r="0.45" fill="none" stroke="#111" stroke-width="0.38"/>
<circle cx="331.77" cy="232.83" r="0.45" fill="none" stroke="#111" stroke-width="0.38"/>
<circle cx="334.45" cy="236.92" r="0.45" fill="none" stroke="#111" stroke-width="0.38"/>
<circle cx="332.14" cy="234.68" r="0.45" fill="none" stroke="#111" stroke-width="0.38"/>
<circle cx="326.46" cy="228.37" r="0.45" fill="none" stroke="#111" stroke-width="0.38"/>
<circle cx="328.06" cy="230.07" r="0.45" fill="none" stroke="#111" stroke-width="0.38"/>
<circle cx="337.53" cy="233.69" r="0.45" fill="none" stroke="#111" stroke-width="0.38"/>
<circle cx="336.18" cy="235.62" r="0.45" fill="none" stroke="#111" stroke-width="0.38"/>
<circle cx="332.53" cy="233.13" r="0.45" fill="none" stroke="#111" stroke-width="0.38"/>
<circle cx="335.66" cy="234.94" r="0.45" fill="none" stroke="#111" stroke-width="0.38"/>
<circle cx="325.71" cy="230.08" r="0.45" fill="none" stroke="#111" stroke-width="0.38"/>
<circle cx="331.34" cy="235.11" r="0.45" fill="none" stroke="#111" stroke-width="0.38"/>
<circle cx="336.01" cy="233.78" r="0.45" fill="none" stroke="#111" stroke-width="0.38"/>
<circle cx="333.09" cy="235.08" r="0.45" fill="none" stroke="#111" stroke-width="0.38"/>
<circle cx="332.25" cy="234.40" r="0.45" fill="none" stroke="#111" stroke-width="0.38"/>
<circle cx="334.28" cy="234.21" r="0.45" fill="none" stroke="#111" stroke-width="0.38"/>
<circle cx="330.90" cy="235.70" r="0.45" fill="none" stroke="#111" stroke-width="0.38"/>
<circle cx="329.39" cy="231.79" r="0.45" fill="none" stroke="#111" stroke-width="0.38"/>
<circle cx="330.77" cy="230.24" r="0.45" fill="none" stroke="#111" stroke-width="0.38"/>
<circle cx="331.08" cy="233.72" r="0.45" fill="none" stroke="#111" stroke-width="0.38"/>
<circle cx="337.59" cy="237.62" r="0.45" fill="none" stroke="#111" stroke-width="0.38"/>
<circle cx="334.83" cy="237.50" r="0.45" fill="none" stroke="#111" stroke-width="0.38"/>
<circle cx="336.72" cy="229.36" r="0.45" fill="none" stroke="#111" stroke-width="0.38"/>
<circle cx="332.92" cy="234.79" r="0.45" fill="none" stroke="#111" stroke-width="0.38"/>
<circle cx="329.19" cy="232.19" r="0.45" fill="none" stroke="#111" stroke-width="0.38"/>
<circle cx="338.65" cy="235.91" r="0.45" fill="none" stroke="#111" stroke-width="0.38"/>
<circle cx="329.86" cy="234.73" r="0.45" fill="none" stroke="#111" stroke-width="0.38"/>
<circle cx="328.28" cy="228.45" r="0.45" fill="none" stroke="#111" stroke-width="0.38"/>
<circle cx="332.33" cy="236.69" r="0.45" fill="none" stroke="#111" stroke-width="0.38"/>
<circle cx="335.44" cy="238.52" r="0.45" fill="none" stroke="#111" stroke-width="0.38"/>
<circle cx="339.31" cy="240.45" r="0.45" fill="none" stroke="#111" stroke-width="0.38"/>
<circle cx="328.81" cy="231.05" r="0.45" fill="none" stroke="#111" stroke-width="0.38"/>
<circle cx="334.08" cy="236.49" r="0.45" fill="none" stroke="#111" stroke-width="0.38"/>
<circle cx="326.08" cy="230.52" r="0.45" fill="none" stroke="#111" stroke-width="0.38"/>
<circle cx="330.37" cy="232.21" r="0.45" fill="none" stroke="#111" stroke-width="0.38"/>
<circle cx="337.37" cy="237.54" r="0.45" fill="none" stroke="#111" stroke-width="0.38"/>
<circle cx="330.69" cy="232.65" r="0.45" fill="none" stroke="#111" stroke-width="0.38"/>
<circle cx="328.01" cy="236.33" r="0.45" fill="none" stroke="#111" stroke-width="0.38"/>
<circle cx="334.03" cy="237.87" r="0.45" fill="none" stroke="#111" stroke-width="0.38"/>
<circle cx="331.28" cy="231.73" r="0.45" fill="none" stroke="#111" stroke-width="0.38"/>
<circle cx="336.15" cy="231.34" r="0.45" fill="none" stroke="#111" stroke-width="0.38"/>
<circle cx="337.40" cy="234.65" r="0.45" fill="none" stroke="#111" stroke-width="0.38"/>
<circle cx="332.49" cy="235.20" r="0.45" fill="none" stroke="#111" stroke-width="0.38"/>
<circle cx="329.69" cy="233.15" r="0.45" fill="none" stroke="#111" stroke-width="0.38"/>
<circle cx="332.39" cy="239.23" r="0.45" fill="none" stroke="#111" stroke-width="0.38"/>
<circle cx="331.54" cy="238.38" r="0.45" fill="none" stroke="#111" stroke-width="0.38"/>
<circle cx="334.30" cy="235.17" r="0.45" fill="none" stroke="#111" stroke-width="0.38"/>
<circle cx="335.94" cy="235.54" r="0.45" fill="none" stroke="#111" stroke-width="0.38"/>
<circle cx="332.29" cy="235.80" r="0.45" fill="none" stroke="#111" stroke-width="0.38"/>
<circle cx="335.82" cy="237.54" r="0.45" fill="none" stroke="#111" stroke-width="0.38"/>
<circle cx="326.41" cy="233.17" r="0.45" fill="none" stroke="#111" stroke-width="0.38"/>
<circle cx="333.51" cy="234.30" r="0.45" fill="none" stroke="#111" stroke-width="0.38"/>
<circle cx="329.35" cy="233.48" r="0.45" fill="none" stroke="#111" stroke-width="0.38"/>
<circle cx="332.78" cy="236.33" r="0.45" fill="none" stroke="#111" stroke-width="0.38"/>
<circle cx="330.27" cy="236.67" r="0.45" fill="none" stroke="#111" stroke-width="0.38"/>
<circle cx="331.27" cy="234.48" r="0.45" fill="none" stroke="#111" stroke-width="0.38"/>
<circle cx="331.89" cy="236.65" r="0.45" fill="none" stroke="#111" stroke-width="0.38"/>
<circle cx="330.82" cy="232.29" r="0.45" fill="none" stroke="#111" stroke-width="0.38"/>
<circle cx="332.76" cy="232.78" r="0.45" fill="none" stroke="#111" stroke-width="0.38"/>
<circle cx="332.08" cy="230.84" r="0.45" fill="none" stroke="#111" stroke-width="0.38"/>
<circle cx="333.06" cy="238.66" r="0.45" fill="none" stroke="#111" stroke-width="0.38"/>
<circle cx="328.57" cy="233.40" r="0.45" fill="none" stroke="#111" stroke-width="0.38"/>
<circle cx="330.04" cy="230.35" r="0.45" fill="none" stroke="#111" stroke-width="0.38"/>
<circle cx="331.46" cy="233.86" r="0.45" fill="none" stroke="#111" stroke-width="0.38"/>
<circle cx="336.44" cy="232.22" r="0.45" fill="none" stroke="#111" stroke-width="0.38"/>
<circle cx="328.40" cy="231.46" r="0.45" fill="none" stroke="#111" stroke-width="0.38"/>
<circle cx="329.15" cy="237.39" r="0.45" fill="none" stroke="#111" stroke-width="0.38"/>
<circle cx="332.55" cy="232.65" r="0.45" fill="none" stroke="#111" stroke-width="0.38"/>
<circle cx="339.71" cy="232.74" r="0.45" fill="none" stroke="#111" stroke-width="0.38"/>
<circle cx="323.37" cy="234.59" r="0.45" fill="none" stroke="#111" stroke-width="0.38"/>
<circle cx="330.57" cy="233.05" r="0.45" fill="none" stroke="#111" stroke-width="0.38"/>
<circle cx="333.14" cy="232.46" r="0.45" fill="none" stroke="#111" stroke-width="0.38"/>
<circle cx="333.80" cy="231.85" r="0.45" fill="none" stroke="#111" stroke-width="0.38"/>
<circle cx="334.62" cy="237.93" r="0.45" fill="none" stroke="#111" stroke-width="0.38"/>
<circle cx="335.86" cy="234.44" r="0.45" fill="none" stroke="#111" stroke-width="0.38"/>
<circle cx="327.18" cy="229.06" r="0.45" fill="none" stroke="#111" stroke-width="0.38"/>
<circle cx="328.68" cy="232.47" r="0.45" fill="none" stroke="#111" stroke-width="0.38"/>
<circle cx="328.72" cy="229.06" r="0.45" fill="none" stroke="#111" stroke-width="0.38"/>
<circle cx="332.47" cy="235.41" r="0.45" fill="none" stroke="#111" stroke-width="0.38"/>
<circle cx="334.47" cy="232.48" r="0.45" fill="none" stroke="#111" stroke-width="0.38"/>
<circle cx="327.94" cy="236.15" r="0.45" fill="none" stroke="#111" stroke-width="0.38"/>
<circle cx="336.56" cy="235.20" r="0.45" fill="none" stroke="#111" stroke-width="0.38"/>
<circle cx="338.69" cy="238.61" r="0.45" fill="none" stroke="#111" stroke-width="0.38"/>
<circle cx="333.61" cy="232.98" r="0.45" fill="none" stroke="#111" stroke-width="0.38"/>
<circle cx="337.16" cy="238.09" r="0.45" fill="none" stroke="#111" stroke-width="0.38"/>
<circle cx="333.50" cy="232.64" r="0.45" fill="none" stroke="#111" stroke-width="0.38"/>
<circle cx="328.38" cy="231.69" r="0.45" fill="none" stroke="#111" stroke-width="0.38"/>
<circle cx="330.66" cy="237.00" r="0.45" fill="none" stroke="#111" stroke-width="0.38"/>
<circle cx="330.23" cy="231.63" r="0.45" fill="none" stroke="#111" stroke-width="0.38"/>
<circle cx="334.64" cy="238.05" r="0.45" fill="none" stroke="#111" stroke-width="0.38"/>
<circle cx="328.64" cy="235.25" r="0.45" fill="none" stroke="#111" stroke-width="0.38"/>
<circle cx="332.95" cy="236.98" r="0.45" fill="none" stroke="#111" stroke-width="0.38"/>
<circle cx="332.44" cy="236.82" r="0.45" fill="none" stroke="#111" stroke-width="0.38"/>
<circle cx="331.56" cy="233.04" r="0.45" fill="none" stroke="#111" stroke-width="0.38"/>
<circle cx="335.48" cy="237.58" r="0.45" fill="none" stroke="#111" stroke-width="0.38"/>
<circle cx="332.28" cy="237.13" r="0.45" fill="none" stroke="#111" stroke-width="0.38"/>
<circle cx="332.81" cy="235.61" r="0.45" fill="none" stroke="#111" stroke-width="0.38"/>
<circle cx="326.39" cy="228.36" r="0.45" fill="none" stroke="#111" stroke-width="0.38"/>
<circle cx="336.26" cy="234.82" r="0.45" fill="none" stroke="#111" stroke-width="0.38"/>
<circle cx="331.40" cy="234.08" r="0.45" fill="none" stroke="#111" stroke-width="0.38"/>
<circle cx="331.07" cy="235.50" r="0.45" fill="none" stroke="#111" stroke-width="0.38"/>
<circle cx="334.28" cy="235.19" r="0.45" fill="none" stroke="#111" stroke-width="0.38"/>
<circle cx="336.42" cy="236.31" r="0.45" fill="none" stroke="#111" stroke-width="0.38"/>
<circle cx="329.98" cy="233.26" r="0.45" fill="none" stroke="#111" stroke-width="0.38"/>
<circle cx="334.74" cy="235.61" r="0.45" fill="none" stroke="#111" stroke-width="0.38"/>
<circle cx="329.89" cy="231.01" r="0.45" fill="none" stroke="#111" stroke-width="0.38"/>
<circle cx="332.44" cy="236.05" r="0.45" fill="none" stroke="#111" stroke-width="0.38"/>
<circle cx="338.30" cy="238.25" r="0.45" fill="none" stroke="#111" stroke-width="0.38"/>
<circle cx="334.61" cy="230.27" r="0.45" fill="none" stroke="#111" stroke-width="0.38"/>
<circle cx="335.42" cy="238.89" r="0.45" fill="none" stroke="#111" stroke-width="0.38"/>
<circle cx="333.51" cy="233.20" r="0.45" fill="none" stroke="#111" stroke-width="0.38"/>
<circle cx="323.55" cy="229.51" r="0.45" fill="none" stroke="#111" stroke-width="0.38"/>
<circle cx="328.25" cy="235.08" r="0.45" fill="none" stroke="#111" stroke-width="0.38"/>
<circle cx="333.34" cy="238.31" r="0.45" fill="none" stroke="#111" stroke-width="0.38"/>
<circle cx="330.66" cy="236.05" r="0.45" fill="none" stroke="#111" stroke-width="0.38"/>
<circle cx="326.38" cy="233.55" r="0.45" fill="none" stroke="#111" stroke-width="0.38"/>
<circle cx="333.97" cy="232.32" r="0.45" fill="none" stroke="#111" stroke-width="0.38"/>
<circle cx="332.56" cy="231.81" r="0.45" fill="none" stroke="#111" stroke-width="0.38"/>
<circle cx="334.32" cy="233.78" r="0.45" fill="none" stroke="#111" stroke-width="0.38"/>
<circle cx="329.07" cy="230.80" r="0.45" fill="none" stroke="#111" stroke-width="0.38"/>
<circle cx="331.61" cy="234.18" r="0.45" fill="none" stroke="#111" stroke-width="0.38"/>
<circle cx="333.17" cy="238.12" r="0.45" fill="none" stroke="#111" stroke-width="0.38"/>
<circle cx="331.80" cy="238.10" r="0.45" fill="none" stroke="#111" stroke-width="0.38"/>
<circle cx="324.98" cy="228.49" r="0.45" fill="none" stroke="#111" stroke-width="0.38"/>
<circle cx="337.16" cy="234.36" r="0.45" fill="none" stroke="#111" stroke-width="0.38"/>
<circle cx="331.68" cy="234.27" r="0.45" fill="none" stroke="#111" stroke-width="0.38"/>
<circle cx="328.49" cy="229.80" r="0.45" fill="none" stroke="#111" stroke-width="0.38"/>
<circle cx="334.85" cy="235.25" r="0.45" fill="none" stroke="#111" stroke-width="0.38"/>
<circle cx="334.40" cy="241.93" r="0.45" fill="none" stroke="#111" stroke-width="0.38"/>
<circle cx="333.81" cy="232.29" r="0.45" fill="none" stroke="#111" stroke-width="0.38"/>
<circle cx="333.19" cy="233.35" r="0.45" fill="none" stroke="#111" stroke-width="0.38"/>
<circle cx="328.65" cy="230.37" r="0.45" fill="none" stroke="#111" stroke-width="0.38"/>
<circle cx="331.58" cy="232.69" r="0.45" fill="none" stroke="#111" stroke-width="0.38"/>
<circle cx="334.12" cy="238.32" r="0.45" fill="none" stroke="#111" stroke-width="0.38"/>
<circle cx="334.33" cy="234.75" r="0.45" fill="none" stroke="#111" stroke-width="0.38"/>
<circle cx="333.87" cy="235.40" r="0.45" fill="none" stroke="#111" stroke-width="0.38"/>
<circle cx="334.51" cy="233.28" r="0.45" fill="none" stroke="#111" stroke-width="0.38"/>
<circle cx="321.89" cy="228.67" r="0.45" fill="none" stroke="#111" stroke-width="0.38"/>
<circle cx="331.37" cy="232.15" r="0.45" fill="none" stroke="#111" stroke-width="0.38"/>
<circle cx="332.62" cy="234.25" r="0.45" fill="none" stroke="#111" stroke-width="0.38"/>
<circle cx="329.74" cy="236.24" r="0.45" fill="none" stroke="#111" stroke-width="0.38"/>
<circle cx="332.70" cy="235.07" r="0.45" fill="none" stroke="#111" stroke-width="0.38"/>
<circle cx="329.97" cy="232.16" r="0.45" fill="none" stroke="#111" stroke-width="0.38"/>
<circle cx="334.13" cy="235.33" r="0.45" fill="none" stroke="#111" stroke-width="0.38"/>
<circle cx="334.78" cy="233.57" r="0.45" fill="none" stroke="#111" stroke-width="0.38"/>
<circle cx="335.04" cy="233.55" r="0.45" fill="none" stroke="#111" stroke-width="0.38"/>
<circle cx="332.20" cy="232.07" r="0.45" fill="none" stroke="#111" stroke-width="0.38"/>
<circle cx="331.78" cy="236.63" r="0.45" fill="none" stroke="#111" stroke-width="0.38"/>
<circle cx="334.59" cy="233.60" r="0.45" fill="none" stroke="#111" stroke-width="0.38"/>
<circle cx="331.71" cy="236.43" r="0.45" fill="none" stroke="#111" stroke-width="0.38"/>
<circle cx="334.22" cy="236.91" r="0.45" fill="none" stroke="#111" stroke-width="0.38"/>
<circle cx="329.78" cy="230.83" r="0.45" fill="none" stroke="#111" stroke-width="0.38"/>
<circle cx="331.09" cy="232.02" r="0.45" fill="none" stroke="#111" stroke-width="0.38"/>
<circle cx="333.27" cy="235.00" r="0.45" fill="none" stroke="#111" stroke-width="0.38"/>
<circle cx="330.80" cy="234.52" r="0.45" fill="none" stroke="#111" stroke-width="0.38"/>
<circle cx="330.79" cy="232.18" r="0.45" fill="none" stroke="#111" stroke-width="0.38"/>
<circle cx="334.62" cy="232.37" r="0.45" fill="none" stroke="#111" stroke-width="0.38"/>
<circle cx="331.69" cy="230.07" r="0.45" fill="none" stroke="#111" stroke-width="0.38"/>
<circle cx="329.52" cy="231.72" r="0.45" fill="none" stroke="#111" stroke-width="0.38"/>
<circle cx="331.77" cy="234.66" r="0.45" fill="none" stroke="#111" stroke-width="0.38"/>
<circle cx="335.04" cy="233.26" r="0.45" fill="none" stroke="#111" stroke-width="0.38"/>
<circle cx="336.69" cy="240.98" r="0.45" fill="none" stroke="#111" stroke-width="0.38"/>
<circle cx="329.67" cy="230.40" r="0.45" fill="none" stroke="#111" stroke-width="0.38"/>
<circle cx="330.85" cy="233.60" r="0.45" fill="none" stroke="#111" stroke-width="0.38"/>
<circle cx="334.50" cy="235.82" r="0.45" fill="none" stroke="#111" stroke-width="0.38"/>
<circle cx="321.05" cy="233.22" r="0.45" fill="none" stroke="#111" stroke-width="0.38"/>
<circle cx="334.21" cy="237.75" r="0.45" fill="none" stroke="#111" stroke-width="0.38"/>
<circle cx="330.14" cy="232.81" r="0.45" fill="none" stroke="#111" stroke-width="0.38"/>
<circle cx="336.07" cy="235.76" r="0.45" fill="none" stroke="#111" stroke-width="0.38"/>
<circle cx="336.02" cy="237.18" r="0.45" fill="none" stroke="#111" stroke-width="0.38"/>
<circle cx="337.44" cy="238.15" r="0.45" fill="none" stroke="#111" stroke-width="0.38"/>
<circle cx="339.22" cy="235.18" r="0.45" fill="none" stroke="#111" stroke-width="0.38"/>
<circle cx="336.51" cy="238.50" r="0.45" fill="none" stroke="#111" stroke-width="0.38"/>
<circle cx="330.07" cy="235.30" r="0.45" fill="none" stroke="#111" stroke-width="0.38"/>
<circle cx="330.75" cy="235.14" r="0.45" fill="none" stroke="#111" stroke-width="0.38"/>
<circle cx="334.23" cy="238.35" r="0.45" fill="none" stroke="#111" stroke-width="0.38"/>
<circle cx="337.72" cy="241.82" r="0.45" fill="none" stroke="#111" stroke-width="0.38"/>
<circle cx="339.46" cy="241.39" r="0.45" fill="none" stroke="#111" stroke-width="0.38"/>
<circle cx="332.58" cy="235.41" r="0.45" fill="none" stroke="#111" stroke-width="0.38"/>
<circle cx="334.02" cy="232.24" r="0.45" fill="none" stroke="#111" stroke-width="0.38"/>
<circle cx="334.53" cy="232.74" r="0.45" fill="none" stroke="#111" stroke-width="0.38"/>
<circle cx="332.10" cy="233.23" r="0.45" fill="none" stroke="#111" stroke-width="0.38"/>
<circle cx="332.22" cy="231.32" r="0.45" fill="none" stroke="#111" stroke-width="0.38"/>
<circle cx="332.97" cy="234.61" r="0.45" fill="none" stroke="#111" stroke-width="0.38"/>
<circle cx="336.07" cy="238.65" r="0.45" fill="none" stroke="#111" stroke-width="0.38"/>
<circle cx="336.11" cy="235.80" r="0.45" fill="none" stroke="#111" stroke-width="0.38"/>
<circle cx="333.20" cy="231.58" r="0.45" fill="none" stroke="#111" stroke-width="0.38"/>
<circle cx="329.00" cy="233.56" r="0.45" fill="none" stroke="#111" stroke-width="0.38"/>
<circle cx="332.18" cy="233.70" r="0.45" fill="none" stroke="#111" stroke-width="0.38"/>
<circle cx="328.91" cy="235.67" r="0.45" fill="none" stroke="#111" stroke-width="0.38"/>
<circle cx="331.00" cy="236.16" r="0.45" fill="none" stroke="#111" stroke-width="0.38"/>
<circle cx="331.29" cy="235.89" r="0.45" fill="none" stroke="#111" stroke-width="0.38"/>
<circle cx="331.27" cy="229.89" r="0.45" fill="none" stroke="#111" stroke-width="0.38"/>
<circle cx="336.41" cy="236.45" r="0.45" fill="none" stroke="#111" stroke-width="0.38"/>
<circle cx="332.33" cy="236.48" r="0.45" fill="none" stroke="#111" stroke-width="0.38"/>
<circle cx="334.42" cy="236.46" r="0.45" fill="none" stroke="#111" stroke-width="0.38"/>
<circle cx="329.78" cy="230.46" r="0.45" fill="none" stroke="#111" stroke-width="0.38"/>
<circle cx="331.91" cy="235.54" r="0.45" fill="none" stroke="#111" stroke-width="0.38"/>
<circle cx="333.74" cy="236.21" r="0.45" fill="none" stroke="#111" stroke-width="0.38"/>
<circle cx="330.21" cy="232.59" r="0.45" fill="none" stroke="#111" stroke-width="0.38"/>
<circle cx="336.68" cy="235.20" r="0.45" fill="none" stroke="#111" stroke-width="0.38"/>
<circle cx="329.69" cy="234.57" r="0.45" fill="none" stroke="#111" stroke-width="0.38"/>
<circle cx="337.00" cy="238.76" r="0.45" fill="none" stroke="#111" stroke-width="0.38"/>
<circle cx="333.82" cy="232.82" r="0.45" fill="none" stroke="#111" stroke-width="0.38"/>
<circle cx="333.21" cy="232.79" r="0.45" fill="none" stroke="#111" stroke-width="0.38"/>
<circle cx="337.98" cy="238.14" r="0.45" fill="none" stroke="#111" stroke-width="0.38"/>
<circle cx="337.77" cy="240.03" r="0.45" fill="none" stroke="#111" stroke-width="0.38"/>
<circle cx="341.78" cy="240.64" r="0.45" fill="none" stroke="#111" stroke-width="0.38"/>
<circle cx="336.93" cy="240.83" r="0.45" fill="none" stroke="#111" stroke-width="0.38"/>
<circle cx="340.30" cy="238.89" r="0.45" fill="none" stroke="#111" stroke-width="0.38"/>
<circle cx="340.53" cy="239.16" r="0.45" fill="none" stroke="#111" stroke-width="0.38"/>
<circle cx="337.80" cy="238.98" r="0.45" fill="none" stroke="#111" stroke-width="0.38"/>
<circle cx="341.81" cy="240.58" r="0.45" fill="none" stroke="#111" stroke-width="0.38"/>
<circle cx="344.24" cy="237.97" r="0.45" fill="none" stroke="#111" stroke-width="0.38"/>
<circle cx="344.02" cy="241.00" r="0.45" fill="none" stroke="#111" stroke-width="0.38"/>
<circle cx="342.42" cy="241.90" r="0.45" fill="none" stroke="#111" stroke-width="0.38"/>
<circle cx="337.24" cy="240.88" r="0.45" fill="none" stroke="#111" stroke-width="0.38"/>
<line x1="307.20" y1="250.40" x2="402.80" y2="188.60" stroke="#111" stroke-width="1.0"/>
<circle cx="397.9" cy="190.3" r="1.45" fill="#fff" fill-opacity="0.5" stroke="#c0102a" stroke-width="0.9"/>
<circle cx="393.3" cy="195.8" r="1.45" fill="#fff" fill-opacity="0.5" stroke="#c0102a" stroke-width="0.9"/>
<circle cx="388.7" cy="198.7" r="1.45" fill="#fff" fill-opacity="0.5" stroke="#c0102a" stroke-width="0.9"/>
<circle cx="387.3" cy="197.3" r="1.45" fill="#fff" fill-opacity="0.5" stroke="#c0102a" stroke-width="0.9"/>
<circle cx="393.3" cy="206.3" r="1.45" fill="#fff" fill-opacity="0.5" stroke="#c0102a" stroke-width="0.9"/>
<circle cx="318.6" cy="228.9" r="1.3" fill="#fff" fill-opacity="0.6" stroke="#4a9ee0" stroke-width="0.8"/>
<circle cx="316.7" cy="235.0" r="1.3" fill="#fff" fill-opacity="0.6" stroke="#4a9ee0" stroke-width="0.8"/>
<circle cx="326.5" cy="234.8" r="1.3" fill="#5aa6e4" fill-opacity="1" stroke="#4a9ee0" stroke-width="0.8"/>
<circle cx="328.6" cy="235.9" r="1.3" fill="#fff" fill-opacity="0.6" stroke="#4a9ee0" stroke-width="0.8"/>
<circle cx="326.2" cy="240.7" r="1.3" fill="#5aa6e4" fill-opacity="1" stroke="#4a9ee0" stroke-width="0.8"/>
<circle cx="332.1" cy="231.7" r="1.3" fill="#fff" fill-opacity="0.6" stroke="#4a9ee0" stroke-width="0.8"/>
<circle cx="335.9" cy="237.9" r="1.3" fill="#fff" fill-opacity="0.6" stroke="#4a9ee0" stroke-width="0.8"/>
<circle cx="325.5" cy="238.5" r="1.3" fill="#5aa6e4" fill-opacity="1" stroke="#4a9ee0" stroke-width="0.8"/>
<rect x="297.50" y="176.50" width="124.60" height="83.70" fill="none" stroke="#111111" stroke-width="1.45"/>
<line x1="294.20" y1="176.50" x2="297.50" y2="176.50" stroke="#111111" stroke-width="0.9"/>
<text x="292.90" y="178.70" font-size="6.6" text-anchor="end" font-weight="normal" fill="#231f20" stroke="#231f20" stroke-width="0.07">3</text>
<line x1="294.20" y1="190.45" x2="297.50" y2="190.45" stroke="#111111" stroke-width="0.9"/>
<text x="292.90" y="192.65" font-size="6.6" text-anchor="end" font-weight="normal" fill="#231f20" stroke="#231f20" stroke-width="0.07">2</text>
<line x1="294.20" y1="204.40" x2="297.50" y2="204.40" stroke="#111111" stroke-width="0.9"/>
<text x="292.90" y="206.60" font-size="6.6" text-anchor="end" font-weight="normal" fill="#231f20" stroke="#231f20" stroke-width="0.07">1</text>
<line x1="294.20" y1="218.35" x2="297.50" y2="218.35" stroke="#111111" stroke-width="0.9"/>
<text x="292.90" y="220.55" font-size="6.6" text-anchor="end" font-weight="normal" fill="#231f20" stroke="#231f20" stroke-width="0.07">0</text>
<line x1="294.20" y1="232.30" x2="297.50" y2="232.30" stroke="#111111" stroke-width="0.9"/>
<text x="292.90" y="234.50" font-size="6.6" text-anchor="end" font-weight="normal" fill="#231f20" stroke="#231f20" stroke-width="0.07">-1</text>
<line x1="294.20" y1="246.25" x2="297.50" y2="246.25" stroke="#111111" stroke-width="0.9"/>
<text x="292.90" y="248.45" font-size="6.6" text-anchor="end" font-weight="normal" fill="#231f20" stroke="#231f20" stroke-width="0.07">-2</text>
<line x1="294.20" y1="260.20" x2="297.50" y2="260.20" stroke="#111111" stroke-width="0.9"/>
<text x="292.90" y="262.40" font-size="6.6" text-anchor="end" font-weight="normal" fill="#231f20" stroke="#231f20" stroke-width="0.07">-3</text>
<line x1="297.49" y1="260.20" x2="297.49" y2="263.20" stroke="#111111" stroke-width="0.9"/>
<text x="297.69" y="271.90" font-size="6.6" text-anchor="middle" font-weight="normal" fill="#231f20" stroke="#231f20" stroke-width="0.07">-3</text>
<line x1="318.26" y1="260.20" x2="318.26" y2="263.20" stroke="#111111" stroke-width="0.9"/>
<text x="318.46" y="271.90" font-size="6.6" text-anchor="middle" font-weight="normal" fill="#231f20" stroke="#231f20" stroke-width="0.07">-2</text>
<line x1="339.03" y1="260.20" x2="339.03" y2="263.20" stroke="#111111" stroke-width="0.9"/>
<text x="339.23" y="271.90" font-size="6.6" text-anchor="middle" font-weight="normal" fill="#231f20" stroke="#231f20" stroke-width="0.07">-1</text>
<line x1="359.80" y1="260.20" x2="359.80" y2="263.20" stroke="#111111" stroke-width="0.9"/>
<text x="359.80" y="271.90" font-size="6.6" text-anchor="middle" font-weight="normal" fill="#231f20" stroke="#231f20" stroke-width="0.07">0</text>
<line x1="380.57" y1="260.20" x2="380.57" y2="263.20" stroke="#111111" stroke-width="0.9"/>
<text x="380.57" y="271.90" font-size="6.6" text-anchor="middle" font-weight="normal" fill="#231f20" stroke="#231f20" stroke-width="0.07">1</text>
<line x1="401.34" y1="260.20" x2="401.34" y2="263.20" stroke="#111111" stroke-width="0.9"/>
<text x="401.34" y="271.90" font-size="6.6" text-anchor="middle" font-weight="normal" fill="#231f20" stroke="#231f20" stroke-width="0.07">2</text>
<line x1="422.11" y1="260.20" x2="422.11" y2="263.20" stroke="#111111" stroke-width="0.9"/>
<text x="422.11" y="271.90" font-size="6.6" text-anchor="middle" font-weight="normal" fill="#231f20" stroke="#231f20" stroke-width="0.07">3</text>
<text x="359.60" y="284.60" font-size="8.6" text-anchor="middle" font-weight="normal" fill="#231f20" stroke="#231f20" stroke-width="0.1" textLength="46.60" lengthAdjust="spacingAndGlyphs">RIGER score R2</text>
<text x="279.50" y="216.80" font-size="8.0" text-anchor="middle" font-weight="normal" fill="#231f20" stroke="#231f20" stroke-width="0.1" textLength="49.00" lengthAdjust="spacingAndGlyphs" transform="rotate(-90 279.50 216.80)">RIGER score R1</text>
<text x="399.00" y="186.80" font-size="4.5" text-anchor="start" font-weight="normal" fill="#231f20">CSNK2B</text>
<text x="397.90" y="197.40" font-size="4.5" text-anchor="start" font-weight="normal" fill="#231f20">BIRC2</text>
<text x="399.60" y="201.10" font-size="4.5" text-anchor="start" font-weight="normal" fill="#231f20">RIPK3</text>
<text x="403.00" y="206.00" font-size="4.5" text-anchor="start" font-weight="normal" fill="#231f20">TRAF2</text>
<text x="395.60" y="210.90" font-size="4.5" text-anchor="start" font-weight="normal" fill="#231f20">TNFAIP3</text>
<text x="398.90" y="247.00" font-size="5.0" text-anchor="start" font-weight="normal" fill="#231f20">R²=0.9</text>
<text x="398.90" y="252.20" font-size="5.0" text-anchor="start" font-weight="normal" fill="#231f20">p&lt;0.001</text>
<text x="323.10" y="227.30" font-size="4.5" text-anchor="start" font-weight="normal" fill="#231f20">CD79B</text>
<text x="307.10" y="231.30" font-size="4.5" text-anchor="start" font-weight="normal" fill="#231f20">IRF4</text>
<text x="299.00" y="236.60" font-size="4.5" text-anchor="start" font-weight="normal" fill="#231f20">PIK3C2B</text>
<text x="341.40" y="232.60" font-size="4.5" text-anchor="start" font-weight="normal" fill="#231f20">TLR9</text>
<text x="343.70" y="237.80" font-size="4.5" text-anchor="start" font-weight="normal" fill="#231f20">MALT1</text>
<text x="344.00" y="242.50" font-size="4.5" text-anchor="start" font-weight="normal" fill="#231f20">GRB10</text>
<text x="319.20" y="246.10" font-size="4.5" text-anchor="start" font-weight="normal" fill="#231f20">IRAK1</text>
<text x="319.20" y="250.10" font-size="4.5" text-anchor="start" font-weight="normal" fill="#231f20">CARD11</text>
<text x="319.20" y="253.90" font-size="4.5" text-anchor="start" font-weight="normal" fill="#231f20">EGFR</text>
<text x="319.20" y="257.60" font-size="4.5" text-anchor="start" font-weight="normal" fill="#231f20">HIF1A</text>
<text x="6.40" y="312.80" font-size="12.5" text-anchor="start" font-weight="bold" fill="#000" stroke="#000" stroke-width="0.3">G</text>
<text x="56.00" y="321.80" font-size="6.5" text-anchor="start" font-weight="normal" fill="#231f20" stroke="#231f20" stroke-width="0.15" textLength="25.00" lengthAdjust="spacingAndGlyphs">CARD11</text>
<line x1="58.00" y1="325.00" x2="79.80" y2="325.00" stroke="#222" stroke-width="1.3"/>
<text x="54.40" y="343.30" font-size="6.3" text-anchor="start" font-weight="normal" fill="#231f20" stroke="#231f20" stroke-width="0.15" textLength="14.60" lengthAdjust="spacingAndGlyphs" transform="rotate(-90 54.40 343.30)">shNT</text>
<text x="64.40" y="343.30" font-size="6.3" text-anchor="start" font-weight="normal" fill="#231f20" stroke="#231f20" stroke-width="0.15" textLength="13.00" lengthAdjust="spacingAndGlyphs" transform="rotate(-90 64.40 343.30)">sh#1</text>
<text x="75.40" y="343.30" font-size="6.3" text-anchor="start" font-weight="normal" fill="#231f20" stroke="#231f20" stroke-width="0.15" textLength="13.40" lengthAdjust="spacingAndGlyphs" transform="rotate(-90 75.40 343.30)">sh#3</text>
<rect x="45.5" y="345.2" width="33.6" height="12.5" fill="#dcdcdc"/>
<rect x="45.5" y="345.2" width="33.6" height="1.2" fill="#bdbdbd"/>
<rect x="45.5" y="356.5" width="33.6" height="1.2" fill="#bdbdbd"/>
<rect x="45.5" y="353.2" width="33.6" height="1.2" fill="#cbcbcb"/>
<rect x="47.9" y="349.7" width="7.9" height="2.0" rx="0.8" fill="#161616"/>
<rect x="58.7" y="350.0" width="9.0" height="1.7" rx="0.8" fill="#737373"/>
<rect x="70.2" y="350.0" width="8.6" height="1.9" rx="0.8" fill="#444"/>
<rect x="45.5" y="360.9" width="33.6" height="9.0" fill="#d6d6d6"/>
<rect x="45.5" y="360.9" width="33.6" height="0.9" fill="#b8b8b8"/>
<rect x="45.5" y="362.3" width="33.6" height="2.2" fill="#e6e6e6"/>
<rect x="45.5" y="366.0" width="33.6" height="2.6" rx="1" fill="#121212"/>
<text x="42.00" y="352.70" font-size="7.0" text-anchor="end" font-weight="normal" fill="#231f20" stroke="#231f20" stroke-width="0.15" textLength="25.50" lengthAdjust="spacingAndGlyphs">CARD11</text>
<text x="42.00" y="368.50" font-size="7.0" text-anchor="end" font-weight="normal" fill="#231f20" stroke="#231f20" stroke-width="0.15" textLength="13.80" lengthAdjust="spacingAndGlyphs">actin</text>
<text x="145.20" y="323.60" font-size="8.8" text-anchor="start" font-weight="normal" fill="#231f20" stroke="#231f20" stroke-width="0.07" textLength="33.50" lengthAdjust="spacingAndGlyphs">CARD11</text>
<polyline points="137.96,357.70 138.45,357.70 138.93,357.69 139.41,357.68 139.90,357.67 140.38,357.65 140.86,357.64 141.35,357.62 141.83,357.60 142.31,357.58 142.79,357.55 143.28,357.52 143.76,357.48 144.24,357.44 144.73,357.39 145.21,357.34 145.69,357.28 146.18,357.20 146.66,357.12 147.14,357.02 147.62,356.91 148.11,356.79 148.59,356.64 149.07,356.48 149.56,356.29 150.04,356.08 150.52,355.85 151.01,355.58 151.49,355.28 151.97,354.95 152.45,354.58 152.94,354.17 153.42,353.72 153.90,353.23 154.39,352.71 154.87,352.15 155.35,351.55 155.84,350.92 156.32,350.27 156.80,349.59 157.28,348.91 157.77,348.21 158.25,347.52 158.73,346.83 159.22,346.17 159.70,345.52 160.18,344.90 160.67,344.31 161.15,343.76 161.63,343.25 162.11,342.77 162.60,342.34 163.08,341.94 163.56,341.58 164.05,341.26 164.53,340.97 165.01,340.71 165.50,340.48 165.98,340.28 166.46,340.10 166.94,339.94 167.43,339.80 167.91,339.68 168.39,339.58 168.88,339.49 169.36,339.41 169.84,339.34 170.33,339.28 170.81,339.22 171.29,339.18 171.77,339.14 172.26,339.10 172.74,339.07 173.22,339.05 173.71,339.02 174.19,339.01 174.67,338.99 175.16,338.97 175.64,338.96 176.12,338.95 176.60,338.94 177.09,338.93 177.57,338.93 178.05,338.92 178.54,338.92 179.02,338.91 179.50,338.91 179.99,338.90 180.47,338.90 180.95,338.90 181.43,338.90 181.92,338.89 182.40,338.89 182.88,338.89 183.37,338.89 183.85,338.89" fill="none" stroke="#e3806a" stroke-width="0.85"/>
<polyline points="137.96,361.11 138.45,361.11 138.93,361.11 139.41,361.11 139.90,361.11 140.38,361.11 140.86,361.11 141.35,361.10 141.83,361.10 142.31,361.10 142.79,361.10 143.28,361.09 143.76,361.09 144.24,361.09 144.73,361.08 145.21,361.08 145.69,361.07 146.18,361.06 146.66,361.05 147.14,361.04 147.62,361.03 148.11,361.01 148.59,361.00 149.07,360.98 149.56,360.96 150.04,360.93 150.52,360.90 151.01,360.86 151.49,360.82 151.97,360.77 152.45,360.72 152.94,360.65 153.42,360.58 153.90,360.50 154.39,360.40 154.87,360.28 155.35,360.15 155.84,360.00 156.32,359.83 156.80,359.63 157.28,359.41 157.77,359.15 158.25,358.86 158.73,358.53 159.22,358.17 159.70,357.75 160.18,357.30 160.67,356.79 161.15,356.24 161.63,355.63 162.11,354.98 162.60,354.29 163.08,353.55 163.56,352.77 164.05,351.96 164.53,351.14 165.01,350.30 165.50,349.45 165.98,348.61 166.46,347.79 166.94,346.99 167.43,346.23 167.91,345.50 168.39,344.82 168.88,344.18 169.36,343.59 169.84,343.05 170.33,342.56 170.81,342.12 171.29,341.72 171.77,341.36 172.26,341.05 172.74,340.77 173.22,340.52 173.71,340.31 174.19,340.12 174.67,339.95 175.16,339.81 175.64,339.68 176.12,339.57 176.60,339.48 177.09,339.40 177.57,339.33 178.05,339.26 178.54,339.21 179.02,339.17 179.50,339.13 179.99,339.09 180.47,339.06 180.95,339.04 181.43,339.02 181.92,339.00 182.40,338.98 182.88,338.97 183.37,338.96 183.85,338.95" fill="none" stroke="#b0102a" stroke-width="1.05"/>
<polyline points="137.96,382.90 138.45,382.90 138.93,382.90 139.41,382.90 139.90,382.90 140.38,382.90 140.86,382.90 141.35,382.90 141.83,382.90 142.31,382.90 142.79,382.90 143.28,382.90 143.76,382.90 144.24,382.90 144.73,382.90 145.21,382.90 145.69,382.90 146.18,382.90 146.66,382.90 147.14,382.90 147.62,382.90 148.11,382.90 148.59,382.90 149.07,382.90 149.56,382.90 150.04,382.90 150.52,382.90 151.01,382.90 151.49,382.89 151.97,382.89 152.45,382.89 152.94,382.88 153.42,382.88 153.90,382.87 154.39,382.86 154.87,382.85 155.35,382.84 155.84,382.82 156.32,382.80 156.80,382.77 157.28,382.73 157.77,382.68 158.25,382.62 158.73,382.53 159.22,382.43 159.70,382.29 160.18,382.12 160.67,381.90 161.15,381.62 161.63,381.27 162.11,380.82 162.60,380.25 163.08,379.55 163.56,378.67 164.05,377.60 164.53,376.30 165.01,374.75 165.50,372.93 165.98,370.85 166.46,368.51 166.94,365.96 167.43,363.25 167.91,360.47 168.39,357.71 168.88,355.04 169.36,352.55 169.84,350.28 170.33,348.28 170.81,346.54 171.29,345.07 171.77,343.84 172.26,342.83 172.74,342.01 173.22,341.35 173.71,340.82 174.19,340.40 174.67,340.07 175.16,339.81 175.64,339.61 176.12,339.45 176.60,339.32 177.09,339.23 177.57,339.15 178.05,339.09 178.54,339.04 179.02,339.01 179.50,338.98 179.99,338.96 180.47,338.94 180.95,338.93 181.43,338.92 181.92,338.91 182.40,338.90 182.88,338.90 183.37,338.90 183.85,338.89" fill="none" stroke="#3d95e0" stroke-width="0.95"/>
<line x1="137.96" y1="357.75" x2="137.96" y2="360.44" stroke="#111" stroke-width="0.7"/>
<line x1="136.86" y1="357.75" x2="139.06" y2="357.75" stroke="#111" stroke-width="0.7"/>
<line x1="136.86" y1="360.44" x2="139.06" y2="360.44" stroke="#111" stroke-width="0.7"/>
<polygon points="137.96,357.80 139.16,360.00 136.76,360.00" fill="#e3806a"/>
<polygon points="149.48,356.90 150.68,359.10 148.28,359.10" fill="#e3806a"/>
<line x1="161.00" y1="342.93" x2="161.00" y2="346.52" stroke="#111" stroke-width="0.7"/>
<line x1="159.90" y1="342.93" x2="162.10" y2="342.93" stroke="#111" stroke-width="0.7"/>
<line x1="159.90" y1="346.52" x2="162.10" y2="346.52" stroke="#111" stroke-width="0.7"/>
<polygon points="161.00,343.42 162.20,345.62 159.80,345.62" fill="#e3806a"/>
<polygon points="172.52,338.48 173.72,340.68 171.32,340.68" fill="#e3806a"/>
<polygon points="184.04,337.58 185.24,339.78 182.84,339.78" fill="#e3806a"/>
<line x1="137.96" y1="359.55" x2="137.96" y2="363.14" stroke="#111" stroke-width="0.7"/>
<line x1="136.86" y1="359.55" x2="139.06" y2="359.55" stroke="#111" stroke-width="0.7"/>
<line x1="136.86" y1="363.14" x2="139.06" y2="363.14" stroke="#111" stroke-width="0.7"/>
<rect x="136.66" y="360.04" width="2.6" height="2.6" fill="#b0102a"/>
<rect x="148.18" y="359.14" width="2.6" height="2.6" fill="#b0102a"/>
<rect x="159.70" y="355.55" width="2.6" height="2.6" fill="#b0102a"/>
<line x1="172.52" y1="339.33" x2="172.52" y2="342.03" stroke="#111" stroke-width="0.7"/>
<line x1="171.42" y1="339.33" x2="173.62" y2="339.33" stroke="#111" stroke-width="0.7"/>
<line x1="171.42" y1="342.03" x2="173.62" y2="342.03" stroke="#111" stroke-width="0.7"/>
<rect x="171.22" y="339.38" width="2.6" height="2.6" fill="#b0102a"/>
<rect x="182.74" y="337.58" width="2.6" height="2.6" fill="#b0102a"/>
<circle cx="137.96" cy="382.00" r="1.35" fill="#3d95e0"/>
<line x1="149.48" y1="382.23" x2="149.48" y2="383.58" stroke="#111" stroke-width="0.7"/>
<line x1="148.38" y1="382.23" x2="150.58" y2="382.23" stroke="#111" stroke-width="0.7"/>
<line x1="148.38" y1="383.58" x2="150.58" y2="383.58" stroke="#111" stroke-width="0.7"/>
<circle cx="149.48" cy="382.90" r="1.35" fill="#3d95e0"/>
<line x1="161.00" y1="378.86" x2="161.00" y2="385.15" stroke="#111" stroke-width="0.7"/>
<line x1="159.90" y1="378.86" x2="162.10" y2="378.86" stroke="#111" stroke-width="0.7"/>
<line x1="159.90" y1="385.15" x2="162.10" y2="385.15" stroke="#111" stroke-width="0.7"/>
<circle cx="161.00" cy="382.00" r="1.35" fill="#3d95e0"/>
<line x1="172.52" y1="341.13" x2="172.52" y2="345.62" stroke="#111" stroke-width="0.7"/>
<line x1="171.42" y1="341.13" x2="173.62" y2="341.13" stroke="#111" stroke-width="0.7"/>
<line x1="171.42" y1="345.62" x2="173.62" y2="345.62" stroke="#111" stroke-width="0.7"/>
<circle cx="172.52" cy="343.38" r="1.35" fill="#3d95e0"/>
<circle cx="184.04" cy="338.88" r="1.35" fill="#3d95e0"/>
<rect x="126.30" y="329.90" width="72.45" height="53.90" fill="none" stroke="#111111" stroke-width="1.45"/>
<line x1="123.60" y1="383.80" x2="126.30" y2="383.80" stroke="#111111" stroke-width="0.9"/>
<text x="120.00" y="386.10" font-size="6.6" text-anchor="end" font-weight="normal" fill="#231f20" stroke="#231f20" stroke-width="0.07" textLength="8.60" lengthAdjust="spacingAndGlyphs">0.0</text>
<line x1="123.60" y1="374.82" x2="126.30" y2="374.82" stroke="#111111" stroke-width="0.9"/>
<text x="120.00" y="377.12" font-size="6.6" text-anchor="end" font-weight="normal" fill="#231f20" stroke="#231f20" stroke-width="0.07" textLength="8.60" lengthAdjust="spacingAndGlyphs">0.2</text>
<line x1="123.60" y1="365.83" x2="126.30" y2="365.83" stroke="#111111" stroke-width="0.9"/>
<text x="120.00" y="368.13" font-size="6.6" text-anchor="end" font-weight="normal" fill="#231f20" stroke="#231f20" stroke-width="0.07" textLength="8.60" lengthAdjust="spacingAndGlyphs">0.4</text>
<line x1="123.60" y1="356.85" x2="126.30" y2="356.85" stroke="#111111" stroke-width="0.9"/>
<text x="120.00" y="359.15" font-size="6.6" text-anchor="end" font-weight="normal" fill="#231f20" stroke="#231f20" stroke-width="0.07" textLength="8.60" lengthAdjust="spacingAndGlyphs">0.6</text>
<line x1="123.60" y1="347.87" x2="126.30" y2="347.87" stroke="#111111" stroke-width="0.9"/>
<text x="120.00" y="350.17" font-size="6.6" text-anchor="end" font-weight="normal" fill="#231f20" stroke="#231f20" stroke-width="0.07" textLength="8.60" lengthAdjust="spacingAndGlyphs">0.8</text>
<line x1="123.60" y1="338.88" x2="126.30" y2="338.88" stroke="#111111" stroke-width="0.9"/>
<text x="120.00" y="341.18" font-size="6.6" text-anchor="end" font-weight="normal" fill="#231f20" stroke="#231f20" stroke-width="0.07" textLength="8.60" lengthAdjust="spacingAndGlyphs">1.0</text>
<line x1="123.60" y1="329.90" x2="126.30" y2="329.90" stroke="#111111" stroke-width="0.9"/>
<text x="120.00" y="332.20" font-size="6.6" text-anchor="end" font-weight="normal" fill="#231f20" stroke="#231f20" stroke-width="0.07" textLength="8.60" lengthAdjust="spacingAndGlyphs">1.2</text>
<line x1="126.30" y1="383.80" x2="126.30" y2="386.40" stroke="#111111" stroke-width="0.9"/>
<text x="126.40" y="396.0" font-size="6.4" text-anchor="middle" fill="#231f20">10<tspan font-size="4.4" dy="-3.4">-8</tspan></text>
<line x1="150.45" y1="383.80" x2="150.45" y2="386.40" stroke="#111111" stroke-width="0.9"/>
<text x="150.55" y="396.0" font-size="6.4" text-anchor="middle" fill="#231f20">10<tspan font-size="4.4" dy="-3.4">-7</tspan></text>
<line x1="174.60" y1="383.80" x2="174.60" y2="386.40" stroke="#111111" stroke-width="0.9"/>
<text x="174.70" y="396.0" font-size="6.4" text-anchor="middle" fill="#231f20">10<tspan font-size="4.4" dy="-3.4">-6</tspan></text>
<line x1="198.75" y1="383.80" x2="198.75" y2="386.40" stroke="#111111" stroke-width="0.9"/>
<text x="198.85" y="396.0" font-size="6.4" text-anchor="middle" fill="#231f20">10<tspan font-size="4.4" dy="-3.4">-5</tspan></text>
<text x="140.00" y="408.30" font-size="8.6" text-anchor="start" font-weight="normal" fill="#231f20" stroke="#231f20" stroke-width="0.1" textLength="45.80" lengthAdjust="spacingAndGlyphs">Log [MI-2], (M)</text>
<text x="105.00" y="359.45" font-size="8.2" text-anchor="middle" font-weight="normal" fill="#231f20" stroke="#231f20" stroke-width="0.08" textLength="66.00" lengthAdjust="spacingAndGlyphs" transform="rotate(-90 105.00 359.45)">Growth inhibition (Fa)</text>
<circle cx="209.50" cy="335.00" r="1.35" fill="#3d95e0"/>
<text x="214.40" y="336.80" font-size="5.5" text-anchor="start" font-weight="normal" fill="#231f20" stroke="#231f20" stroke-width="0.1" textLength="12.40" lengthAdjust="spacingAndGlyphs">shNT</text>
<rect x="208.20" y="343.00" width="2.6" height="2.6" fill="#b0102a"/>
<text x="214.40" y="346.10" font-size="5.5" text-anchor="start" font-weight="normal" fill="#231f20" stroke="#231f20" stroke-width="0.1" textLength="11.20" lengthAdjust="spacingAndGlyphs">sh#1</text>
<polygon points="209.50,352.30 210.70,354.50 208.30,354.50" fill="#e3806a"/>
<text x="214.40" y="355.40" font-size="5.5" text-anchor="start" font-weight="normal" fill="#231f20" stroke="#231f20" stroke-width="0.1" textLength="11.40" lengthAdjust="spacingAndGlyphs">sh#3</text>
<text x="243.10" y="312.60" font-size="12.5" text-anchor="start" font-weight="bold" fill="#000" stroke="#000" stroke-width="0.3">H</text>
<text x="292.80" y="321.50" font-size="6.5" text-anchor="start" font-weight="normal" fill="#231f20" stroke="#231f20" stroke-width="0.15" textLength="26.40" lengthAdjust="spacingAndGlyphs">TNFAIP3</text>
<line x1="294.90" y1="324.80" x2="316.40" y2="324.80" stroke="#222" stroke-width="1.3"/>
<text x="291.20" y="341.30" font-size="6.3" text-anchor="start" font-weight="normal" fill="#231f20" stroke="#231f20" stroke-width="0.15" textLength="6.80" lengthAdjust="spacingAndGlyphs" transform="rotate(-90 291.20 341.30)">EV</text>
<text x="302.20" y="341.30" font-size="6.3" text-anchor="start" font-weight="normal" fill="#231f20" stroke="#231f20" stroke-width="0.15" textLength="13.00" lengthAdjust="spacingAndGlyphs" transform="rotate(-90 302.20 341.30)">sg#1</text>
<text x="312.20" y="341.30" font-size="6.3" text-anchor="start" font-weight="normal" fill="#231f20" stroke="#231f20" stroke-width="0.15" textLength="13.00" lengthAdjust="spacingAndGlyphs" transform="rotate(-90 312.20 341.30)">sg#2</text>
<rect x="282.1" y="344.9" width="33.5" height="12.6" fill="#ebebeb" stroke="#c4c4c4" stroke-width="0.6"/>
<rect x="284.9" y="350.6" width="8.4" height="2.9" rx="1" fill="#a4a4a4"/>
<rect x="295.0" y="351.0" width="8.6" height="2.0" rx="1" fill="#dedede"/>
<rect x="305.5" y="351.0" width="9.4" height="2.0" rx="1" fill="#d6d6d6"/>
<rect x="282.1" y="362.4" width="33.5" height="9.7" fill="#e6e6e6" stroke="#9a9a9a" stroke-width="0.6"/>
<rect x="283.5" y="366.1" width="30.8" height="1.7" rx="0.8" fill="#8a8a8a"/>
<rect x="282.1" y="377.4" width="33.5" height="9.4" fill="#e8e8e8" stroke="#9a9a9a" stroke-width="0.6"/>
<rect x="283.4" y="381.6" width="11.0" height="2.3" rx="1" fill="#111"/>
<rect x="295.5" y="381.7" width="8.6" height="2.1" rx="1" fill="#111"/>
<rect x="305.0" y="381.5" width="10.0" height="2.4" rx="1" fill="#0a0a0a"/>
<text x="279.30" y="354.50" font-size="7.0" text-anchor="end" font-weight="normal" fill="#231f20" stroke="#231f20" stroke-width="0.15" textLength="26.60" lengthAdjust="spacingAndGlyphs">TNFAIP3</text>
<text x="279.30" y="369.40" font-size="7.0" text-anchor="end" font-weight="normal" fill="#231f20" stroke="#231f20" stroke-width="0.15" textLength="14.40" lengthAdjust="spacingAndGlyphs">actin</text>
<text x="279.30" y="384.80" font-size="7.0" text-anchor="end" font-weight="normal" fill="#231f20" stroke="#231f20" stroke-width="0.15" textLength="12.80" lengthAdjust="spacingAndGlyphs">GFP</text>
<text x="383.20" y="323.60" font-size="8.8" text-anchor="start" font-weight="normal" fill="#231f20" stroke="#231f20" stroke-width="0.07" textLength="34.60" lengthAdjust="spacingAndGlyphs">TNFAIP3</text>
<polyline points="378.95,380.62 379.32,380.62 379.68,380.62 380.05,380.62 380.41,380.62 380.78,380.62 381.14,380.62 381.51,380.62 381.87,380.62 382.23,380.62 382.60,380.62 382.96,380.62 383.33,380.62 383.69,380.62 384.06,380.62 384.42,380.62 384.79,380.62 385.15,380.61 385.51,380.61 385.88,380.61 386.24,380.61 386.61,380.61 386.97,380.61 387.34,380.61 387.70,380.60 388.07,380.60 388.43,380.60 388.80,380.60 389.16,380.59 389.52,380.59 389.89,380.58 390.25,380.58 390.62,380.57 390.98,380.57 391.35,380.56 391.71,380.55 392.08,380.54 392.44,380.53 392.80,380.52 393.17,380.50 393.53,380.49 393.90,380.47 394.26,380.45 394.63,380.42 394.99,380.39 395.36,380.36 395.72,380.32 396.09,380.28 396.45,380.23 396.81,380.18 397.18,380.12 397.54,380.05 397.91,379.97 398.27,379.88 398.64,379.78 399.00,379.66 399.37,379.53 399.73,379.38 400.09,379.21 400.46,379.02 400.82,378.80 401.19,378.55 401.55,378.28 401.92,377.97 402.28,377.62 402.65,377.23 403.01,376.79 403.38,376.31 403.74,375.77 404.10,375.17 404.47,374.51 404.83,373.79 405.20,373.00 405.56,372.14 405.93,371.21 406.29,370.21 406.66,369.13 407.02,368.00 407.38,366.80 407.75,365.54 408.11,364.24 408.48,362.89 408.84,361.52 409.21,360.13 409.57,358.73 409.94,357.35 410.30,355.98 410.67,354.64 411.03,353.34 411.39,352.09 411.76,350.89 412.12,349.76 412.49,348.70 412.85,347.70 413.22,346.78 413.58,345.92 413.95,345.14 414.31,344.42 414.67,343.77 415.04,343.18 415.40,342.64 415.77,342.16 416.13,341.73 416.50,341.35 416.86,341.00 417.23,340.70 417.59,340.42 417.96,340.18 418.32,339.97 418.68,339.78 419.05,339.61 419.41,339.46 419.78,339.33 420.14,339.22 420.51,339.12 420.87,339.03 421.24,338.95 421.60,338.88 421.96,338.82 422.33,338.76 422.69,338.72 423.06,338.68 423.42,338.64 423.79,338.61 424.15,338.58 424.52,338.56 424.88,338.54 425.25,338.52 425.61,338.50 425.97,338.49 426.34,338.47 426.70,338.46 427.07,338.45 427.43,338.44 427.80,338.44 428.16,338.43 428.53,338.42 428.89,338.42 429.25,338.41 429.62,338.41 429.98,338.41 430.35,338.40 430.71,338.40 431.08,338.40" fill="none" stroke="#e3806a" stroke-width="0.85"/>
<polyline points="378.95,383.78 379.32,383.78 379.68,383.78 380.05,383.78 380.41,383.77 380.78,383.77 381.14,383.77 381.51,383.76 381.87,383.76 382.23,383.75 382.60,383.75 382.96,383.74 383.33,383.74 383.69,383.73 384.06,383.72 384.42,383.71 384.79,383.70 385.15,383.69 385.51,383.68 385.88,383.67 386.24,383.65 386.61,383.63 386.97,383.62 387.34,383.59 387.70,383.57 388.07,383.55 388.43,383.52 388.80,383.48 389.16,383.45 389.52,383.41 389.89,383.37 390.25,383.32 390.62,383.26 390.98,383.20 391.35,383.13 391.71,383.06 392.08,382.98 392.44,382.89 392.80,382.78 393.17,382.67 393.53,382.55 393.90,382.41 394.26,382.25 394.63,382.09 394.99,381.90 395.36,381.69 395.72,381.46 396.09,381.21 396.45,380.94 396.81,380.64 397.18,380.30 397.54,379.94 397.91,379.54 398.27,379.11 398.64,378.63 399.00,378.12 399.37,377.56 399.73,376.96 400.09,376.31 400.46,375.61 400.82,374.86 401.19,374.06 401.55,373.21 401.92,372.31 402.28,371.36 402.65,370.37 403.01,369.33 403.38,368.24 403.74,367.12 404.10,365.97 404.47,364.79 404.83,363.59 405.20,362.38 405.56,361.15 405.93,359.93 406.29,358.71 406.66,357.51 407.02,356.33 407.38,355.17 407.75,354.05 408.11,352.96 408.48,351.92 408.84,350.92 409.21,349.96 409.57,349.06 409.94,348.20 410.30,347.40 410.67,346.65 411.03,345.94 411.39,345.29 411.76,344.68 412.12,344.12 412.49,343.60 412.85,343.12 413.22,342.68 413.58,342.28 413.95,341.92 414.31,341.58 414.67,341.27 415.04,341.00 415.40,340.74 415.77,340.51 416.13,340.30 416.50,340.12 416.86,339.94 417.23,339.79 417.59,339.65 417.96,339.52 418.32,339.41 418.68,339.31 419.05,339.21 419.41,339.13 419.78,339.06 420.14,338.99 420.51,338.93 420.87,338.87 421.24,338.82 421.60,338.78 421.96,338.74 422.33,338.70 422.69,338.67 423.06,338.64 423.42,338.61 423.79,338.59 424.15,338.57 424.52,338.55 424.88,338.53 425.25,338.52 425.61,338.50 425.97,338.49 426.34,338.48 426.70,338.47 427.07,338.46 427.43,338.45 427.80,338.45 428.16,338.44 428.53,338.43 428.89,338.43 429.25,338.42 429.62,338.42 429.98,338.42 430.35,338.41 430.71,338.41 431.08,338.41" fill="none" stroke="#b0102a" stroke-width="1.05"/>
<polyline points="378.95,380.57 379.32,380.42 379.68,380.26 380.05,380.09 380.41,379.91 380.78,379.73 381.14,379.54 381.51,379.35 381.87,379.14 382.23,378.93 382.60,378.70 382.96,378.47 383.33,378.23 383.69,377.98 384.06,377.72 384.42,377.45 384.79,377.17 385.15,376.88 385.51,376.58 385.88,376.27 386.24,375.95 386.61,375.62 386.97,375.28 387.34,374.93 387.70,374.56 388.07,374.19 388.43,373.80 388.80,373.41 389.16,373.00 389.52,372.58 389.89,372.15 390.25,371.71 390.62,371.26 390.98,370.80 391.35,370.33 391.71,369.85 392.08,369.36 392.44,368.86 392.80,368.35 393.17,367.84 393.53,367.31 393.90,366.78 394.26,366.24 394.63,365.70 394.99,365.15 395.36,364.60 395.72,364.04 396.09,363.48 396.45,362.91 396.81,362.34 397.18,361.78 397.54,361.21 397.91,360.64 398.27,360.07 398.64,359.50 399.00,358.93 399.37,358.37 399.73,357.81 400.09,357.25 400.46,356.70 400.82,356.16 401.19,355.62 401.55,355.08 401.92,354.56 402.28,354.04 402.65,353.53 403.01,353.02 403.38,352.53 403.74,352.05 404.10,351.57 404.47,351.11 404.83,350.65 405.20,350.21 405.56,349.77 405.93,349.35 406.29,348.94 406.66,348.54 407.02,348.15 407.38,347.77 407.75,347.40 408.11,347.04 408.48,346.70 408.84,346.36 409.21,346.04 409.57,345.72 409.94,345.42 410.30,345.13 410.67,344.84 411.03,344.57 411.39,344.31 411.76,344.05 412.12,343.81 412.49,343.57 412.85,343.35 413.22,343.13 413.58,342.92 413.95,342.72 414.31,342.53 414.67,342.34 415.04,342.16 415.40,341.99 415.77,341.83 416.13,341.67 416.50,341.52 416.86,341.38 417.23,341.24 417.59,341.11 417.96,340.98 418.32,340.86 418.68,340.75 419.05,340.64 419.41,340.53 419.78,340.43 420.14,340.34 420.51,340.25 420.87,340.16 421.24,340.07 421.60,339.99 421.96,339.92 422.33,339.85 422.69,339.78 423.06,339.71 423.42,339.65 423.79,339.59 424.15,339.53 424.52,339.47 424.88,339.42 425.25,339.37 425.61,339.32 425.97,339.28 426.34,339.24 426.70,339.20 427.07,339.16 427.43,339.12 427.80,339.08 428.16,339.05 428.53,339.02 428.89,338.99 429.25,338.96 429.62,338.93 429.98,338.90 430.35,338.88 430.71,338.85 431.08,338.83" fill="none" stroke="#3d95e0" stroke-width="0.95"/>
<polygon points="378.95,379.32 380.15,381.52 377.75,381.52" fill="#e3806a"/>
<polygon points="387.65,379.32 388.85,381.52 386.45,381.52" fill="#e3806a"/>
<polygon points="405.03,372.05 406.23,374.25 403.83,374.25" fill="#e3806a"/>
<polygon points="413.73,343.90 414.93,346.10 412.53,346.10" fill="#e3806a"/>
<polygon points="422.42,337.08 423.62,339.28 421.22,339.28" fill="#e3806a"/>
<polygon points="431.11,337.08 432.31,339.28 429.91,339.28" fill="#e3806a"/>
<rect x="386.35" y="381.14" width="2.6" height="2.6" fill="#b0102a"/>
<rect x="395.04" y="377.96" width="2.6" height="2.6" fill="#b0102a"/>
<rect x="403.73" y="361.61" width="2.6" height="2.6" fill="#b0102a"/>
<rect x="412.43" y="339.35" width="2.6" height="2.6" fill="#b0102a"/>
<rect x="421.12" y="337.08" width="2.6" height="2.6" fill="#b0102a"/>
<rect x="429.81" y="337.08" width="2.6" height="2.6" fill="#b0102a"/>
<circle cx="378.95" cy="381.98" r="1.35" fill="#3d95e0"/>
<circle cx="387.65" cy="372.90" r="1.35" fill="#3d95e0"/>
<circle cx="396.34" cy="363.82" r="1.35" fill="#3d95e0"/>
<circle cx="405.03" cy="348.83" r="1.35" fill="#3d95e0"/>
<circle cx="413.73" cy="339.29" r="1.35" fill="#3d95e0"/>
<circle cx="422.42" cy="338.38" r="1.35" fill="#3d95e0"/>
<circle cx="431.11" cy="339.29" r="1.35" fill="#3d95e0"/>
<rect x="363.90" y="329.30" width="72.90" height="54.50" fill="none" stroke="#111111" stroke-width="1.45"/>
<line x1="361.20" y1="383.80" x2="363.90" y2="383.80" stroke="#111111" stroke-width="0.9"/>
<text x="357.60" y="386.10" font-size="6.6" text-anchor="end" font-weight="normal" fill="#231f20" stroke="#231f20" stroke-width="0.07" textLength="8.60" lengthAdjust="spacingAndGlyphs">0.0</text>
<line x1="361.20" y1="374.72" x2="363.90" y2="374.72" stroke="#111111" stroke-width="0.9"/>
<text x="357.60" y="377.02" font-size="6.6" text-anchor="end" font-weight="normal" fill="#231f20" stroke="#231f20" stroke-width="0.07" textLength="8.60" lengthAdjust="spacingAndGlyphs">0.2</text>
<line x1="361.20" y1="365.63" x2="363.90" y2="365.63" stroke="#111111" stroke-width="0.9"/>
<text x="357.60" y="367.93" font-size="6.6" text-anchor="end" font-weight="normal" fill="#231f20" stroke="#231f20" stroke-width="0.07" textLength="8.60" lengthAdjust="spacingAndGlyphs">0.4</text>
<line x1="361.20" y1="356.55" x2="363.90" y2="356.55" stroke="#111111" stroke-width="0.9"/>
<text x="357.60" y="358.85" font-size="6.6" text-anchor="end" font-weight="normal" fill="#231f20" stroke="#231f20" stroke-width="0.07" textLength="8.60" lengthAdjust="spacingAndGlyphs">0.6</text>
<line x1="361.20" y1="347.47" x2="363.90" y2="347.47" stroke="#111111" stroke-width="0.9"/>
<text x="357.60" y="349.77" font-size="6.6" text-anchor="end" font-weight="normal" fill="#231f20" stroke="#231f20" stroke-width="0.07" textLength="8.60" lengthAdjust="spacingAndGlyphs">0.8</text>
<line x1="361.20" y1="338.38" x2="363.90" y2="338.38" stroke="#111111" stroke-width="0.9"/>
<text x="357.60" y="340.68" font-size="6.6" text-anchor="end" font-weight="normal" fill="#231f20" stroke="#231f20" stroke-width="0.07" textLength="8.60" lengthAdjust="spacingAndGlyphs">1.0</text>
<line x1="361.20" y1="329.30" x2="363.90" y2="329.30" stroke="#111111" stroke-width="0.9"/>
<text x="357.60" y="331.60" font-size="6.6" text-anchor="end" font-weight="normal" fill="#231f20" stroke="#231f20" stroke-width="0.07" textLength="8.60" lengthAdjust="spacingAndGlyphs">1.2</text>
<line x1="363.90" y1="383.80" x2="363.90" y2="386.40" stroke="#111111" stroke-width="0.9"/>
<text x="364.00" y="396.0" font-size="6.4" text-anchor="middle" fill="#231f20">10<tspan font-size="4.4" dy="-3.4">-9</tspan></text>
<line x1="382.12" y1="383.80" x2="382.12" y2="386.40" stroke="#111111" stroke-width="0.9"/>
<text x="382.23" y="396.0" font-size="6.4" text-anchor="middle" fill="#231f20">10<tspan font-size="4.4" dy="-3.4">-8</tspan></text>
<line x1="400.35" y1="383.80" x2="400.35" y2="386.40" stroke="#111111" stroke-width="0.9"/>
<text x="400.45" y="396.0" font-size="6.4" text-anchor="middle" fill="#231f20">10<tspan font-size="4.4" dy="-3.4">-7</tspan></text>
<line x1="418.57" y1="383.80" x2="418.57" y2="386.40" stroke="#111111" stroke-width="0.9"/>
<text x="418.68" y="396.0" font-size="6.4" text-anchor="middle" fill="#231f20">10<tspan font-size="4.4" dy="-3.4">-6</tspan></text>
<line x1="436.80" y1="383.80" x2="436.80" y2="386.40" stroke="#111111" stroke-width="0.9"/>
<text x="436.90" y="396.0" font-size="6.4" text-anchor="middle" fill="#231f20">10<tspan font-size="4.4" dy="-3.4">-5</tspan></text>
<text x="378.00" y="408.30" font-size="8.6" text-anchor="start" font-weight="normal" fill="#231f20" stroke="#231f20" stroke-width="0.1" textLength="45.80" lengthAdjust="spacingAndGlyphs">Log [MI-2], (M)</text>
<text x="342.60" y="359.15" font-size="8.2" text-anchor="middle" font-weight="normal" fill="#231f20" stroke="#231f20" stroke-width="0.08" textLength="66.00" lengthAdjust="spacingAndGlyphs" transform="rotate(-90 342.60 359.15)">Growth inhibition (Fa)</text>
<circle cx="447.90" cy="332.50" r="1.35" fill="#3d95e0"/>
<text x="452.80" y="334.30" font-size="5.5" text-anchor="start" font-weight="normal" fill="#231f20" stroke="#231f20" stroke-width="0.1" textLength="6.50" lengthAdjust="spacingAndGlyphs">EV</text>
<rect x="446.60" y="340.50" width="2.6" height="2.6" fill="#b0102a"/>
<text x="452.80" y="343.60" font-size="5.5" text-anchor="start" font-weight="normal" fill="#231f20" stroke="#231f20" stroke-width="0.1" textLength="11.10" lengthAdjust="spacingAndGlyphs">sg#1</text>
<polygon points="447.90,349.80 449.10,352.00 446.70,352.00" fill="#e3806a"/>
<text x="452.80" y="352.90" font-size="5.5" text-anchor="start" font-weight="normal" fill="#231f20" stroke="#231f20" stroke-width="0.1" textLength="11.10" lengthAdjust="spacingAndGlyphs">sg#2</text>
<rect x="0.5" y="0.5" width="519" height="417" fill="none" stroke="#000" stroke-width="1"/>
</svg>
</body></html>
